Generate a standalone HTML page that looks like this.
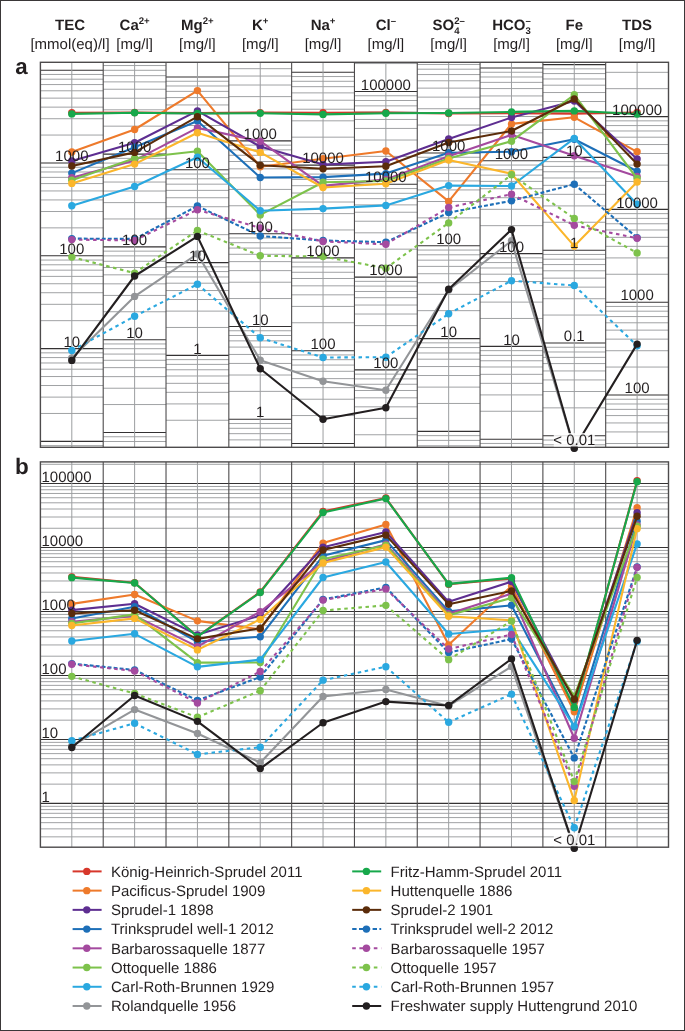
<!DOCTYPE html>
<html><head><meta charset="utf-8"><style>
html,body{margin:0;padding:0;background:#fff;}
body{width:685px;height:1031px;overflow:hidden;}
svg{display:block;will-change:transform;}
text{font-family:"Liberation Sans",sans-serif;}
</style></head><body>
<svg width="685" height="1031" viewBox="0 0 685 1031" font-family="Liberation Sans, sans-serif" text-rendering="geometricPrecision" fill="#231f20">
<rect x="0" y="0" width="685" height="1031" fill="#fff"/>
<rect x="0.5" y="0.5" width="684" height="1030" fill="none" stroke="#3a3738" stroke-width="1"/>
<text x="70.01" y="29.5" text-anchor="middle" font-size="15" font-weight="bold">TEC</text>
<text x="70.01" y="49.4" text-anchor="middle" font-size="15">[mmol(eq)/l]</text>
<text x="134.62" y="29.5" text-anchor="middle" font-size="15" font-weight="bold">Ca<tspan font-size="9.6" dy="-5.3">2+</tspan></text>
<text x="134.62" y="49.4" text-anchor="middle" font-size="15">[mg/l]</text>
<text x="197.43" y="29.5" text-anchor="middle" font-size="15" font-weight="bold">Mg<tspan font-size="9.6" dy="-5.3">2+</tspan></text>
<text x="197.43" y="49.4" text-anchor="middle" font-size="15">[mg/l]</text>
<text x="260.24" y="29.5" text-anchor="middle" font-size="15" font-weight="bold">K<tspan font-size="9.6" dy="-5.3">+</tspan></text>
<text x="260.24" y="49.4" text-anchor="middle" font-size="15">[mg/l]</text>
<text x="323.04" y="29.5" text-anchor="middle" font-size="15" font-weight="bold">Na<tspan font-size="9.6" dy="-5.3">+</tspan></text>
<text x="323.04" y="49.4" text-anchor="middle" font-size="15">[mg/l]</text>
<text x="385.86" y="29.5" text-anchor="middle" font-size="15" font-weight="bold">Cl<tspan font-size="9.6" dy="-5.3">&#8211;</tspan></text>
<text x="385.86" y="49.4" text-anchor="middle" font-size="15">[mg/l]</text>
<text x="448.66" y="29.5" text-anchor="middle" font-size="15" font-weight="bold">SO<tspan font-size="9.6" dy="-5.3">2&#8211;</tspan><tspan font-size="9.6" dy="9.5" dx="-10.7">4</tspan></text>
<text x="448.66" y="49.4" text-anchor="middle" font-size="15">[mg/l]</text>
<text x="511.48" y="29.5" text-anchor="middle" font-size="15" font-weight="bold">HCO<tspan font-size="9.6" dy="-5.3">&#8211;</tspan><tspan font-size="9.6" dy="9.5" dx="-5.35">3</tspan></text>
<text x="511.48" y="49.4" text-anchor="middle" font-size="15">[mg/l]</text>
<text x="574.28" y="29.5" text-anchor="middle" font-size="15" font-weight="bold">Fe</text>
<text x="574.28" y="49.4" text-anchor="middle" font-size="15">[mg/l]</text>
<text x="637.1" y="29.5" text-anchor="middle" font-size="15" font-weight="bold">TDS</text>
<text x="637.1" y="49.4" text-anchor="middle" font-size="15">[mg/l]</text>
<text x="15.3" y="74.3" font-size="22.3" font-weight="bold">a</text>
<text x="15" y="473.6" font-size="22.5" font-weight="bold">b</text>
<line x1="40.4" y1="445.65" x2="103.21" y2="445.65" stroke="#a0a2a4" stroke-width="1"/>
<line x1="40.4" y1="413.46" x2="103.21" y2="413.46" stroke="#a0a2a4" stroke-width="1"/>
<line x1="40.4" y1="397.12" x2="103.21" y2="397.12" stroke="#a0a2a4" stroke-width="1"/>
<line x1="40.4" y1="385.53" x2="103.21" y2="385.53" stroke="#a0a2a4" stroke-width="1"/>
<line x1="40.4" y1="376.54" x2="103.21" y2="376.54" stroke="#a0a2a4" stroke-width="1"/>
<line x1="40.4" y1="369.19" x2="103.21" y2="369.19" stroke="#a0a2a4" stroke-width="1"/>
<line x1="40.4" y1="362.97" x2="103.21" y2="362.97" stroke="#a0a2a4" stroke-width="1"/>
<line x1="40.4" y1="357.59" x2="103.21" y2="357.59" stroke="#a0a2a4" stroke-width="1"/>
<line x1="40.4" y1="352.85" x2="103.21" y2="352.85" stroke="#a0a2a4" stroke-width="1"/>
<line x1="40.4" y1="320.66" x2="103.21" y2="320.66" stroke="#a0a2a4" stroke-width="1"/>
<line x1="40.4" y1="304.32" x2="103.21" y2="304.32" stroke="#a0a2a4" stroke-width="1"/>
<line x1="40.4" y1="292.73" x2="103.21" y2="292.73" stroke="#a0a2a4" stroke-width="1"/>
<line x1="40.4" y1="283.74" x2="103.21" y2="283.74" stroke="#a0a2a4" stroke-width="1"/>
<line x1="40.4" y1="276.39" x2="103.21" y2="276.39" stroke="#a0a2a4" stroke-width="1"/>
<line x1="40.4" y1="270.17" x2="103.21" y2="270.17" stroke="#a0a2a4" stroke-width="1"/>
<line x1="40.4" y1="264.79" x2="103.21" y2="264.79" stroke="#a0a2a4" stroke-width="1"/>
<line x1="40.4" y1="260.05" x2="103.21" y2="260.05" stroke="#a0a2a4" stroke-width="1"/>
<line x1="40.4" y1="227.86" x2="103.21" y2="227.86" stroke="#a0a2a4" stroke-width="1"/>
<line x1="40.4" y1="211.52" x2="103.21" y2="211.52" stroke="#a0a2a4" stroke-width="1"/>
<line x1="40.4" y1="199.93" x2="103.21" y2="199.93" stroke="#a0a2a4" stroke-width="1"/>
<line x1="40.4" y1="190.94" x2="103.21" y2="190.94" stroke="#a0a2a4" stroke-width="1"/>
<line x1="40.4" y1="183.59" x2="103.21" y2="183.59" stroke="#a0a2a4" stroke-width="1"/>
<line x1="40.4" y1="177.37" x2="103.21" y2="177.37" stroke="#a0a2a4" stroke-width="1"/>
<line x1="40.4" y1="171.99" x2="103.21" y2="171.99" stroke="#a0a2a4" stroke-width="1"/>
<line x1="40.4" y1="167.25" x2="103.21" y2="167.25" stroke="#a0a2a4" stroke-width="1"/>
<line x1="40.4" y1="135.06" x2="103.21" y2="135.06" stroke="#a0a2a4" stroke-width="1"/>
<line x1="40.4" y1="118.72" x2="103.21" y2="118.72" stroke="#a0a2a4" stroke-width="1"/>
<line x1="40.4" y1="107.13" x2="103.21" y2="107.13" stroke="#a0a2a4" stroke-width="1"/>
<line x1="40.4" y1="98.14" x2="103.21" y2="98.14" stroke="#a0a2a4" stroke-width="1"/>
<line x1="40.4" y1="90.79" x2="103.21" y2="90.79" stroke="#a0a2a4" stroke-width="1"/>
<line x1="40.4" y1="84.57" x2="103.21" y2="84.57" stroke="#a0a2a4" stroke-width="1"/>
<line x1="40.4" y1="79.19" x2="103.21" y2="79.19" stroke="#a0a2a4" stroke-width="1"/>
<line x1="40.4" y1="74.45" x2="103.21" y2="74.45" stroke="#a0a2a4" stroke-width="1"/>
<line x1="40.4" y1="441.4" x2="103.21" y2="441.4" stroke="#343233" stroke-width="1.1"/>
<line x1="40.4" y1="348.6" x2="103.21" y2="348.6" stroke="#343233" stroke-width="1.1"/>
<line x1="40.4" y1="255.8" x2="103.21" y2="255.8" stroke="#343233" stroke-width="1.1"/>
<line x1="40.4" y1="163" x2="103.21" y2="163" stroke="#343233" stroke-width="1.1"/>
<line x1="40.4" y1="70.2" x2="103.21" y2="70.2" stroke="#343233" stroke-width="1.1"/>
<line x1="71.81" y1="62.3" x2="71.81" y2="447.3" stroke="#9c9ea0" stroke-width="1"/>
<line x1="103.21" y1="441.49" x2="166.02" y2="441.49" stroke="#a0a2a4" stroke-width="1"/>
<line x1="103.21" y1="436.75" x2="166.02" y2="436.75" stroke="#a0a2a4" stroke-width="1"/>
<line x1="103.21" y1="404.56" x2="166.02" y2="404.56" stroke="#a0a2a4" stroke-width="1"/>
<line x1="103.21" y1="388.22" x2="166.02" y2="388.22" stroke="#a0a2a4" stroke-width="1"/>
<line x1="103.21" y1="376.63" x2="166.02" y2="376.63" stroke="#a0a2a4" stroke-width="1"/>
<line x1="103.21" y1="367.64" x2="166.02" y2="367.64" stroke="#a0a2a4" stroke-width="1"/>
<line x1="103.21" y1="360.29" x2="166.02" y2="360.29" stroke="#a0a2a4" stroke-width="1"/>
<line x1="103.21" y1="354.07" x2="166.02" y2="354.07" stroke="#a0a2a4" stroke-width="1"/>
<line x1="103.21" y1="348.69" x2="166.02" y2="348.69" stroke="#a0a2a4" stroke-width="1"/>
<line x1="103.21" y1="343.95" x2="166.02" y2="343.95" stroke="#a0a2a4" stroke-width="1"/>
<line x1="103.21" y1="311.76" x2="166.02" y2="311.76" stroke="#a0a2a4" stroke-width="1"/>
<line x1="103.21" y1="295.42" x2="166.02" y2="295.42" stroke="#a0a2a4" stroke-width="1"/>
<line x1="103.21" y1="283.83" x2="166.02" y2="283.83" stroke="#a0a2a4" stroke-width="1"/>
<line x1="103.21" y1="274.84" x2="166.02" y2="274.84" stroke="#a0a2a4" stroke-width="1"/>
<line x1="103.21" y1="267.49" x2="166.02" y2="267.49" stroke="#a0a2a4" stroke-width="1"/>
<line x1="103.21" y1="261.27" x2="166.02" y2="261.27" stroke="#a0a2a4" stroke-width="1"/>
<line x1="103.21" y1="255.89" x2="166.02" y2="255.89" stroke="#a0a2a4" stroke-width="1"/>
<line x1="103.21" y1="251.15" x2="166.02" y2="251.15" stroke="#a0a2a4" stroke-width="1"/>
<line x1="103.21" y1="218.96" x2="166.02" y2="218.96" stroke="#a0a2a4" stroke-width="1"/>
<line x1="103.21" y1="202.62" x2="166.02" y2="202.62" stroke="#a0a2a4" stroke-width="1"/>
<line x1="103.21" y1="191.03" x2="166.02" y2="191.03" stroke="#a0a2a4" stroke-width="1"/>
<line x1="103.21" y1="182.04" x2="166.02" y2="182.04" stroke="#a0a2a4" stroke-width="1"/>
<line x1="103.21" y1="174.69" x2="166.02" y2="174.69" stroke="#a0a2a4" stroke-width="1"/>
<line x1="103.21" y1="168.47" x2="166.02" y2="168.47" stroke="#a0a2a4" stroke-width="1"/>
<line x1="103.21" y1="163.09" x2="166.02" y2="163.09" stroke="#a0a2a4" stroke-width="1"/>
<line x1="103.21" y1="158.35" x2="166.02" y2="158.35" stroke="#a0a2a4" stroke-width="1"/>
<line x1="103.21" y1="126.16" x2="166.02" y2="126.16" stroke="#a0a2a4" stroke-width="1"/>
<line x1="103.21" y1="109.82" x2="166.02" y2="109.82" stroke="#a0a2a4" stroke-width="1"/>
<line x1="103.21" y1="98.23" x2="166.02" y2="98.23" stroke="#a0a2a4" stroke-width="1"/>
<line x1="103.21" y1="89.24" x2="166.02" y2="89.24" stroke="#a0a2a4" stroke-width="1"/>
<line x1="103.21" y1="81.89" x2="166.02" y2="81.89" stroke="#a0a2a4" stroke-width="1"/>
<line x1="103.21" y1="75.67" x2="166.02" y2="75.67" stroke="#a0a2a4" stroke-width="1"/>
<line x1="103.21" y1="70.29" x2="166.02" y2="70.29" stroke="#a0a2a4" stroke-width="1"/>
<line x1="103.21" y1="65.55" x2="166.02" y2="65.55" stroke="#a0a2a4" stroke-width="1"/>
<line x1="103.21" y1="432.5" x2="166.02" y2="432.5" stroke="#343233" stroke-width="1.1"/>
<line x1="103.21" y1="339.7" x2="166.02" y2="339.7" stroke="#343233" stroke-width="1.1"/>
<line x1="103.21" y1="246.9" x2="166.02" y2="246.9" stroke="#343233" stroke-width="1.1"/>
<line x1="103.21" y1="154.1" x2="166.02" y2="154.1" stroke="#343233" stroke-width="1.1"/>
<line x1="134.62" y1="62.3" x2="134.62" y2="447.3" stroke="#9c9ea0" stroke-width="1"/>
<line x1="166.02" y1="420.26" x2="228.83" y2="420.26" stroke="#a0a2a4" stroke-width="1"/>
<line x1="166.02" y1="403.92" x2="228.83" y2="403.92" stroke="#a0a2a4" stroke-width="1"/>
<line x1="166.02" y1="392.33" x2="228.83" y2="392.33" stroke="#a0a2a4" stroke-width="1"/>
<line x1="166.02" y1="383.34" x2="228.83" y2="383.34" stroke="#a0a2a4" stroke-width="1"/>
<line x1="166.02" y1="375.99" x2="228.83" y2="375.99" stroke="#a0a2a4" stroke-width="1"/>
<line x1="166.02" y1="369.77" x2="228.83" y2="369.77" stroke="#a0a2a4" stroke-width="1"/>
<line x1="166.02" y1="364.39" x2="228.83" y2="364.39" stroke="#a0a2a4" stroke-width="1"/>
<line x1="166.02" y1="359.65" x2="228.83" y2="359.65" stroke="#a0a2a4" stroke-width="1"/>
<line x1="166.02" y1="327.46" x2="228.83" y2="327.46" stroke="#a0a2a4" stroke-width="1"/>
<line x1="166.02" y1="311.12" x2="228.83" y2="311.12" stroke="#a0a2a4" stroke-width="1"/>
<line x1="166.02" y1="299.53" x2="228.83" y2="299.53" stroke="#a0a2a4" stroke-width="1"/>
<line x1="166.02" y1="290.54" x2="228.83" y2="290.54" stroke="#a0a2a4" stroke-width="1"/>
<line x1="166.02" y1="283.19" x2="228.83" y2="283.19" stroke="#a0a2a4" stroke-width="1"/>
<line x1="166.02" y1="276.97" x2="228.83" y2="276.97" stroke="#a0a2a4" stroke-width="1"/>
<line x1="166.02" y1="271.59" x2="228.83" y2="271.59" stroke="#a0a2a4" stroke-width="1"/>
<line x1="166.02" y1="266.85" x2="228.83" y2="266.85" stroke="#a0a2a4" stroke-width="1"/>
<line x1="166.02" y1="234.66" x2="228.83" y2="234.66" stroke="#a0a2a4" stroke-width="1"/>
<line x1="166.02" y1="218.32" x2="228.83" y2="218.32" stroke="#a0a2a4" stroke-width="1"/>
<line x1="166.02" y1="206.73" x2="228.83" y2="206.73" stroke="#a0a2a4" stroke-width="1"/>
<line x1="166.02" y1="197.74" x2="228.83" y2="197.74" stroke="#a0a2a4" stroke-width="1"/>
<line x1="166.02" y1="190.39" x2="228.83" y2="190.39" stroke="#a0a2a4" stroke-width="1"/>
<line x1="166.02" y1="184.17" x2="228.83" y2="184.17" stroke="#a0a2a4" stroke-width="1"/>
<line x1="166.02" y1="178.79" x2="228.83" y2="178.79" stroke="#a0a2a4" stroke-width="1"/>
<line x1="166.02" y1="174.05" x2="228.83" y2="174.05" stroke="#a0a2a4" stroke-width="1"/>
<line x1="166.02" y1="141.86" x2="228.83" y2="141.86" stroke="#a0a2a4" stroke-width="1"/>
<line x1="166.02" y1="125.52" x2="228.83" y2="125.52" stroke="#a0a2a4" stroke-width="1"/>
<line x1="166.02" y1="113.93" x2="228.83" y2="113.93" stroke="#a0a2a4" stroke-width="1"/>
<line x1="166.02" y1="104.94" x2="228.83" y2="104.94" stroke="#a0a2a4" stroke-width="1"/>
<line x1="166.02" y1="97.59" x2="228.83" y2="97.59" stroke="#a0a2a4" stroke-width="1"/>
<line x1="166.02" y1="91.37" x2="228.83" y2="91.37" stroke="#a0a2a4" stroke-width="1"/>
<line x1="166.02" y1="85.99" x2="228.83" y2="85.99" stroke="#a0a2a4" stroke-width="1"/>
<line x1="166.02" y1="81.25" x2="228.83" y2="81.25" stroke="#a0a2a4" stroke-width="1"/>
<line x1="166.02" y1="355.4" x2="228.83" y2="355.4" stroke="#343233" stroke-width="1.1"/>
<line x1="166.02" y1="262.6" x2="228.83" y2="262.6" stroke="#343233" stroke-width="1.1"/>
<line x1="166.02" y1="169.8" x2="228.83" y2="169.8" stroke="#343233" stroke-width="1.1"/>
<line x1="166.02" y1="77" x2="228.83" y2="77" stroke="#343233" stroke-width="1.1"/>
<line x1="197.43" y1="62.3" x2="197.43" y2="447.3" stroke="#9c9ea0" stroke-width="1"/>
<line x1="228.83" y1="439.89" x2="291.64" y2="439.89" stroke="#a0a2a4" stroke-width="1"/>
<line x1="228.83" y1="433.67" x2="291.64" y2="433.67" stroke="#a0a2a4" stroke-width="1"/>
<line x1="228.83" y1="428.29" x2="291.64" y2="428.29" stroke="#a0a2a4" stroke-width="1"/>
<line x1="228.83" y1="423.55" x2="291.64" y2="423.55" stroke="#a0a2a4" stroke-width="1"/>
<line x1="228.83" y1="391.36" x2="291.64" y2="391.36" stroke="#a0a2a4" stroke-width="1"/>
<line x1="228.83" y1="375.02" x2="291.64" y2="375.02" stroke="#a0a2a4" stroke-width="1"/>
<line x1="228.83" y1="363.43" x2="291.64" y2="363.43" stroke="#a0a2a4" stroke-width="1"/>
<line x1="228.83" y1="354.44" x2="291.64" y2="354.44" stroke="#a0a2a4" stroke-width="1"/>
<line x1="228.83" y1="347.09" x2="291.64" y2="347.09" stroke="#a0a2a4" stroke-width="1"/>
<line x1="228.83" y1="340.87" x2="291.64" y2="340.87" stroke="#a0a2a4" stroke-width="1"/>
<line x1="228.83" y1="335.49" x2="291.64" y2="335.49" stroke="#a0a2a4" stroke-width="1"/>
<line x1="228.83" y1="330.75" x2="291.64" y2="330.75" stroke="#a0a2a4" stroke-width="1"/>
<line x1="228.83" y1="298.56" x2="291.64" y2="298.56" stroke="#a0a2a4" stroke-width="1"/>
<line x1="228.83" y1="282.22" x2="291.64" y2="282.22" stroke="#a0a2a4" stroke-width="1"/>
<line x1="228.83" y1="270.63" x2="291.64" y2="270.63" stroke="#a0a2a4" stroke-width="1"/>
<line x1="228.83" y1="261.64" x2="291.64" y2="261.64" stroke="#a0a2a4" stroke-width="1"/>
<line x1="228.83" y1="254.29" x2="291.64" y2="254.29" stroke="#a0a2a4" stroke-width="1"/>
<line x1="228.83" y1="248.07" x2="291.64" y2="248.07" stroke="#a0a2a4" stroke-width="1"/>
<line x1="228.83" y1="242.69" x2="291.64" y2="242.69" stroke="#a0a2a4" stroke-width="1"/>
<line x1="228.83" y1="237.95" x2="291.64" y2="237.95" stroke="#a0a2a4" stroke-width="1"/>
<line x1="228.83" y1="205.76" x2="291.64" y2="205.76" stroke="#a0a2a4" stroke-width="1"/>
<line x1="228.83" y1="189.42" x2="291.64" y2="189.42" stroke="#a0a2a4" stroke-width="1"/>
<line x1="228.83" y1="177.83" x2="291.64" y2="177.83" stroke="#a0a2a4" stroke-width="1"/>
<line x1="228.83" y1="168.84" x2="291.64" y2="168.84" stroke="#a0a2a4" stroke-width="1"/>
<line x1="228.83" y1="161.49" x2="291.64" y2="161.49" stroke="#a0a2a4" stroke-width="1"/>
<line x1="228.83" y1="155.27" x2="291.64" y2="155.27" stroke="#a0a2a4" stroke-width="1"/>
<line x1="228.83" y1="149.89" x2="291.64" y2="149.89" stroke="#a0a2a4" stroke-width="1"/>
<line x1="228.83" y1="145.15" x2="291.64" y2="145.15" stroke="#a0a2a4" stroke-width="1"/>
<line x1="228.83" y1="112.96" x2="291.64" y2="112.96" stroke="#a0a2a4" stroke-width="1"/>
<line x1="228.83" y1="96.62" x2="291.64" y2="96.62" stroke="#a0a2a4" stroke-width="1"/>
<line x1="228.83" y1="85.03" x2="291.64" y2="85.03" stroke="#a0a2a4" stroke-width="1"/>
<line x1="228.83" y1="76.04" x2="291.64" y2="76.04" stroke="#a0a2a4" stroke-width="1"/>
<line x1="228.83" y1="68.69" x2="291.64" y2="68.69" stroke="#a0a2a4" stroke-width="1"/>
<line x1="228.83" y1="419.3" x2="291.64" y2="419.3" stroke="#343233" stroke-width="1.1"/>
<line x1="228.83" y1="326.5" x2="291.64" y2="326.5" stroke="#343233" stroke-width="1.1"/>
<line x1="228.83" y1="233.7" x2="291.64" y2="233.7" stroke="#343233" stroke-width="1.1"/>
<line x1="228.83" y1="140.9" x2="291.64" y2="140.9" stroke="#343233" stroke-width="1.1"/>
<line x1="260.24" y1="62.3" x2="260.24" y2="447.3" stroke="#9c9ea0" stroke-width="1"/>
<line x1="291.64" y1="415.56" x2="354.45" y2="415.56" stroke="#a0a2a4" stroke-width="1"/>
<line x1="291.64" y1="399.22" x2="354.45" y2="399.22" stroke="#a0a2a4" stroke-width="1"/>
<line x1="291.64" y1="387.63" x2="354.45" y2="387.63" stroke="#a0a2a4" stroke-width="1"/>
<line x1="291.64" y1="378.64" x2="354.45" y2="378.64" stroke="#a0a2a4" stroke-width="1"/>
<line x1="291.64" y1="371.29" x2="354.45" y2="371.29" stroke="#a0a2a4" stroke-width="1"/>
<line x1="291.64" y1="365.07" x2="354.45" y2="365.07" stroke="#a0a2a4" stroke-width="1"/>
<line x1="291.64" y1="359.69" x2="354.45" y2="359.69" stroke="#a0a2a4" stroke-width="1"/>
<line x1="291.64" y1="354.95" x2="354.45" y2="354.95" stroke="#a0a2a4" stroke-width="1"/>
<line x1="291.64" y1="322.76" x2="354.45" y2="322.76" stroke="#a0a2a4" stroke-width="1"/>
<line x1="291.64" y1="306.42" x2="354.45" y2="306.42" stroke="#a0a2a4" stroke-width="1"/>
<line x1="291.64" y1="294.83" x2="354.45" y2="294.83" stroke="#a0a2a4" stroke-width="1"/>
<line x1="291.64" y1="285.84" x2="354.45" y2="285.84" stroke="#a0a2a4" stroke-width="1"/>
<line x1="291.64" y1="278.49" x2="354.45" y2="278.49" stroke="#a0a2a4" stroke-width="1"/>
<line x1="291.64" y1="272.27" x2="354.45" y2="272.27" stroke="#a0a2a4" stroke-width="1"/>
<line x1="291.64" y1="266.89" x2="354.45" y2="266.89" stroke="#a0a2a4" stroke-width="1"/>
<line x1="291.64" y1="262.15" x2="354.45" y2="262.15" stroke="#a0a2a4" stroke-width="1"/>
<line x1="291.64" y1="229.96" x2="354.45" y2="229.96" stroke="#a0a2a4" stroke-width="1"/>
<line x1="291.64" y1="213.62" x2="354.45" y2="213.62" stroke="#a0a2a4" stroke-width="1"/>
<line x1="291.64" y1="202.03" x2="354.45" y2="202.03" stroke="#a0a2a4" stroke-width="1"/>
<line x1="291.64" y1="193.04" x2="354.45" y2="193.04" stroke="#a0a2a4" stroke-width="1"/>
<line x1="291.64" y1="185.69" x2="354.45" y2="185.69" stroke="#a0a2a4" stroke-width="1"/>
<line x1="291.64" y1="179.47" x2="354.45" y2="179.47" stroke="#a0a2a4" stroke-width="1"/>
<line x1="291.64" y1="174.09" x2="354.45" y2="174.09" stroke="#a0a2a4" stroke-width="1"/>
<line x1="291.64" y1="169.35" x2="354.45" y2="169.35" stroke="#a0a2a4" stroke-width="1"/>
<line x1="291.64" y1="137.16" x2="354.45" y2="137.16" stroke="#a0a2a4" stroke-width="1"/>
<line x1="291.64" y1="120.82" x2="354.45" y2="120.82" stroke="#a0a2a4" stroke-width="1"/>
<line x1="291.64" y1="109.23" x2="354.45" y2="109.23" stroke="#a0a2a4" stroke-width="1"/>
<line x1="291.64" y1="100.24" x2="354.45" y2="100.24" stroke="#a0a2a4" stroke-width="1"/>
<line x1="291.64" y1="92.89" x2="354.45" y2="92.89" stroke="#a0a2a4" stroke-width="1"/>
<line x1="291.64" y1="86.67" x2="354.45" y2="86.67" stroke="#a0a2a4" stroke-width="1"/>
<line x1="291.64" y1="81.29" x2="354.45" y2="81.29" stroke="#a0a2a4" stroke-width="1"/>
<line x1="291.64" y1="76.55" x2="354.45" y2="76.55" stroke="#a0a2a4" stroke-width="1"/>
<line x1="291.64" y1="443.5" x2="354.45" y2="443.5" stroke="#343233" stroke-width="1.1"/>
<line x1="291.64" y1="350.7" x2="354.45" y2="350.7" stroke="#343233" stroke-width="1.1"/>
<line x1="291.64" y1="257.9" x2="354.45" y2="257.9" stroke="#343233" stroke-width="1.1"/>
<line x1="291.64" y1="165.1" x2="354.45" y2="165.1" stroke="#343233" stroke-width="1.1"/>
<line x1="291.64" y1="72.3" x2="354.45" y2="72.3" stroke="#343233" stroke-width="1.1"/>
<line x1="323.04" y1="62.3" x2="323.04" y2="447.3" stroke="#9c9ea0" stroke-width="1"/>
<line x1="354.45" y1="434.76" x2="417.26" y2="434.76" stroke="#a0a2a4" stroke-width="1"/>
<line x1="354.45" y1="418.42" x2="417.26" y2="418.42" stroke="#a0a2a4" stroke-width="1"/>
<line x1="354.45" y1="406.83" x2="417.26" y2="406.83" stroke="#a0a2a4" stroke-width="1"/>
<line x1="354.45" y1="397.84" x2="417.26" y2="397.84" stroke="#a0a2a4" stroke-width="1"/>
<line x1="354.45" y1="390.49" x2="417.26" y2="390.49" stroke="#a0a2a4" stroke-width="1"/>
<line x1="354.45" y1="384.27" x2="417.26" y2="384.27" stroke="#a0a2a4" stroke-width="1"/>
<line x1="354.45" y1="378.89" x2="417.26" y2="378.89" stroke="#a0a2a4" stroke-width="1"/>
<line x1="354.45" y1="374.15" x2="417.26" y2="374.15" stroke="#a0a2a4" stroke-width="1"/>
<line x1="354.45" y1="341.96" x2="417.26" y2="341.96" stroke="#a0a2a4" stroke-width="1"/>
<line x1="354.45" y1="325.62" x2="417.26" y2="325.62" stroke="#a0a2a4" stroke-width="1"/>
<line x1="354.45" y1="314.03" x2="417.26" y2="314.03" stroke="#a0a2a4" stroke-width="1"/>
<line x1="354.45" y1="305.04" x2="417.26" y2="305.04" stroke="#a0a2a4" stroke-width="1"/>
<line x1="354.45" y1="297.69" x2="417.26" y2="297.69" stroke="#a0a2a4" stroke-width="1"/>
<line x1="354.45" y1="291.47" x2="417.26" y2="291.47" stroke="#a0a2a4" stroke-width="1"/>
<line x1="354.45" y1="286.09" x2="417.26" y2="286.09" stroke="#a0a2a4" stroke-width="1"/>
<line x1="354.45" y1="281.35" x2="417.26" y2="281.35" stroke="#a0a2a4" stroke-width="1"/>
<line x1="354.45" y1="249.16" x2="417.26" y2="249.16" stroke="#a0a2a4" stroke-width="1"/>
<line x1="354.45" y1="232.82" x2="417.26" y2="232.82" stroke="#a0a2a4" stroke-width="1"/>
<line x1="354.45" y1="221.23" x2="417.26" y2="221.23" stroke="#a0a2a4" stroke-width="1"/>
<line x1="354.45" y1="212.24" x2="417.26" y2="212.24" stroke="#a0a2a4" stroke-width="1"/>
<line x1="354.45" y1="204.89" x2="417.26" y2="204.89" stroke="#a0a2a4" stroke-width="1"/>
<line x1="354.45" y1="198.67" x2="417.26" y2="198.67" stroke="#a0a2a4" stroke-width="1"/>
<line x1="354.45" y1="193.29" x2="417.26" y2="193.29" stroke="#a0a2a4" stroke-width="1"/>
<line x1="354.45" y1="188.55" x2="417.26" y2="188.55" stroke="#a0a2a4" stroke-width="1"/>
<line x1="354.45" y1="156.36" x2="417.26" y2="156.36" stroke="#a0a2a4" stroke-width="1"/>
<line x1="354.45" y1="140.02" x2="417.26" y2="140.02" stroke="#a0a2a4" stroke-width="1"/>
<line x1="354.45" y1="128.43" x2="417.26" y2="128.43" stroke="#a0a2a4" stroke-width="1"/>
<line x1="354.45" y1="119.44" x2="417.26" y2="119.44" stroke="#a0a2a4" stroke-width="1"/>
<line x1="354.45" y1="112.09" x2="417.26" y2="112.09" stroke="#a0a2a4" stroke-width="1"/>
<line x1="354.45" y1="105.87" x2="417.26" y2="105.87" stroke="#a0a2a4" stroke-width="1"/>
<line x1="354.45" y1="100.49" x2="417.26" y2="100.49" stroke="#a0a2a4" stroke-width="1"/>
<line x1="354.45" y1="95.75" x2="417.26" y2="95.75" stroke="#a0a2a4" stroke-width="1"/>
<line x1="354.45" y1="63.56" x2="417.26" y2="63.56" stroke="#a0a2a4" stroke-width="1"/>
<line x1="354.45" y1="369.9" x2="417.26" y2="369.9" stroke="#343233" stroke-width="1.1"/>
<line x1="354.45" y1="277.1" x2="417.26" y2="277.1" stroke="#343233" stroke-width="1.1"/>
<line x1="354.45" y1="184.3" x2="417.26" y2="184.3" stroke="#343233" stroke-width="1.1"/>
<line x1="354.45" y1="91.5" x2="417.26" y2="91.5" stroke="#343233" stroke-width="1.1"/>
<line x1="385.86" y1="62.3" x2="385.86" y2="447.3" stroke="#9c9ea0" stroke-width="1"/>
<line x1="417.26" y1="445.77" x2="480.07" y2="445.77" stroke="#a0a2a4" stroke-width="1"/>
<line x1="417.26" y1="440.39" x2="480.07" y2="440.39" stroke="#a0a2a4" stroke-width="1"/>
<line x1="417.26" y1="435.65" x2="480.07" y2="435.65" stroke="#a0a2a4" stroke-width="1"/>
<line x1="417.26" y1="403.46" x2="480.07" y2="403.46" stroke="#a0a2a4" stroke-width="1"/>
<line x1="417.26" y1="387.12" x2="480.07" y2="387.12" stroke="#a0a2a4" stroke-width="1"/>
<line x1="417.26" y1="375.53" x2="480.07" y2="375.53" stroke="#a0a2a4" stroke-width="1"/>
<line x1="417.26" y1="366.54" x2="480.07" y2="366.54" stroke="#a0a2a4" stroke-width="1"/>
<line x1="417.26" y1="359.19" x2="480.07" y2="359.19" stroke="#a0a2a4" stroke-width="1"/>
<line x1="417.26" y1="352.97" x2="480.07" y2="352.97" stroke="#a0a2a4" stroke-width="1"/>
<line x1="417.26" y1="347.59" x2="480.07" y2="347.59" stroke="#a0a2a4" stroke-width="1"/>
<line x1="417.26" y1="342.85" x2="480.07" y2="342.85" stroke="#a0a2a4" stroke-width="1"/>
<line x1="417.26" y1="310.66" x2="480.07" y2="310.66" stroke="#a0a2a4" stroke-width="1"/>
<line x1="417.26" y1="294.32" x2="480.07" y2="294.32" stroke="#a0a2a4" stroke-width="1"/>
<line x1="417.26" y1="282.73" x2="480.07" y2="282.73" stroke="#a0a2a4" stroke-width="1"/>
<line x1="417.26" y1="273.74" x2="480.07" y2="273.74" stroke="#a0a2a4" stroke-width="1"/>
<line x1="417.26" y1="266.39" x2="480.07" y2="266.39" stroke="#a0a2a4" stroke-width="1"/>
<line x1="417.26" y1="260.17" x2="480.07" y2="260.17" stroke="#a0a2a4" stroke-width="1"/>
<line x1="417.26" y1="254.79" x2="480.07" y2="254.79" stroke="#a0a2a4" stroke-width="1"/>
<line x1="417.26" y1="250.05" x2="480.07" y2="250.05" stroke="#a0a2a4" stroke-width="1"/>
<line x1="417.26" y1="217.86" x2="480.07" y2="217.86" stroke="#a0a2a4" stroke-width="1"/>
<line x1="417.26" y1="201.52" x2="480.07" y2="201.52" stroke="#a0a2a4" stroke-width="1"/>
<line x1="417.26" y1="189.93" x2="480.07" y2="189.93" stroke="#a0a2a4" stroke-width="1"/>
<line x1="417.26" y1="180.94" x2="480.07" y2="180.94" stroke="#a0a2a4" stroke-width="1"/>
<line x1="417.26" y1="173.59" x2="480.07" y2="173.59" stroke="#a0a2a4" stroke-width="1"/>
<line x1="417.26" y1="167.37" x2="480.07" y2="167.37" stroke="#a0a2a4" stroke-width="1"/>
<line x1="417.26" y1="161.99" x2="480.07" y2="161.99" stroke="#a0a2a4" stroke-width="1"/>
<line x1="417.26" y1="157.25" x2="480.07" y2="157.25" stroke="#a0a2a4" stroke-width="1"/>
<line x1="417.26" y1="125.06" x2="480.07" y2="125.06" stroke="#a0a2a4" stroke-width="1"/>
<line x1="417.26" y1="108.72" x2="480.07" y2="108.72" stroke="#a0a2a4" stroke-width="1"/>
<line x1="417.26" y1="97.13" x2="480.07" y2="97.13" stroke="#a0a2a4" stroke-width="1"/>
<line x1="417.26" y1="88.14" x2="480.07" y2="88.14" stroke="#a0a2a4" stroke-width="1"/>
<line x1="417.26" y1="80.79" x2="480.07" y2="80.79" stroke="#a0a2a4" stroke-width="1"/>
<line x1="417.26" y1="74.57" x2="480.07" y2="74.57" stroke="#a0a2a4" stroke-width="1"/>
<line x1="417.26" y1="69.19" x2="480.07" y2="69.19" stroke="#a0a2a4" stroke-width="1"/>
<line x1="417.26" y1="64.45" x2="480.07" y2="64.45" stroke="#a0a2a4" stroke-width="1"/>
<line x1="417.26" y1="431.4" x2="480.07" y2="431.4" stroke="#343233" stroke-width="1.1"/>
<line x1="417.26" y1="338.6" x2="480.07" y2="338.6" stroke="#343233" stroke-width="1.1"/>
<line x1="417.26" y1="245.8" x2="480.07" y2="245.8" stroke="#343233" stroke-width="1.1"/>
<line x1="417.26" y1="153" x2="480.07" y2="153" stroke="#343233" stroke-width="1.1"/>
<line x1="448.66" y1="62.3" x2="448.66" y2="447.3" stroke="#9c9ea0" stroke-width="1"/>
<line x1="480.07" y1="443.45" x2="542.88" y2="443.45" stroke="#a0a2a4" stroke-width="1"/>
<line x1="480.07" y1="411.26" x2="542.88" y2="411.26" stroke="#a0a2a4" stroke-width="1"/>
<line x1="480.07" y1="394.92" x2="542.88" y2="394.92" stroke="#a0a2a4" stroke-width="1"/>
<line x1="480.07" y1="383.33" x2="542.88" y2="383.33" stroke="#a0a2a4" stroke-width="1"/>
<line x1="480.07" y1="374.34" x2="542.88" y2="374.34" stroke="#a0a2a4" stroke-width="1"/>
<line x1="480.07" y1="366.99" x2="542.88" y2="366.99" stroke="#a0a2a4" stroke-width="1"/>
<line x1="480.07" y1="360.77" x2="542.88" y2="360.77" stroke="#a0a2a4" stroke-width="1"/>
<line x1="480.07" y1="355.39" x2="542.88" y2="355.39" stroke="#a0a2a4" stroke-width="1"/>
<line x1="480.07" y1="350.65" x2="542.88" y2="350.65" stroke="#a0a2a4" stroke-width="1"/>
<line x1="480.07" y1="318.46" x2="542.88" y2="318.46" stroke="#a0a2a4" stroke-width="1"/>
<line x1="480.07" y1="302.12" x2="542.88" y2="302.12" stroke="#a0a2a4" stroke-width="1"/>
<line x1="480.07" y1="290.53" x2="542.88" y2="290.53" stroke="#a0a2a4" stroke-width="1"/>
<line x1="480.07" y1="281.54" x2="542.88" y2="281.54" stroke="#a0a2a4" stroke-width="1"/>
<line x1="480.07" y1="274.19" x2="542.88" y2="274.19" stroke="#a0a2a4" stroke-width="1"/>
<line x1="480.07" y1="267.97" x2="542.88" y2="267.97" stroke="#a0a2a4" stroke-width="1"/>
<line x1="480.07" y1="262.59" x2="542.88" y2="262.59" stroke="#a0a2a4" stroke-width="1"/>
<line x1="480.07" y1="257.85" x2="542.88" y2="257.85" stroke="#a0a2a4" stroke-width="1"/>
<line x1="480.07" y1="225.66" x2="542.88" y2="225.66" stroke="#a0a2a4" stroke-width="1"/>
<line x1="480.07" y1="209.32" x2="542.88" y2="209.32" stroke="#a0a2a4" stroke-width="1"/>
<line x1="480.07" y1="197.73" x2="542.88" y2="197.73" stroke="#a0a2a4" stroke-width="1"/>
<line x1="480.07" y1="188.74" x2="542.88" y2="188.74" stroke="#a0a2a4" stroke-width="1"/>
<line x1="480.07" y1="181.39" x2="542.88" y2="181.39" stroke="#a0a2a4" stroke-width="1"/>
<line x1="480.07" y1="175.17" x2="542.88" y2="175.17" stroke="#a0a2a4" stroke-width="1"/>
<line x1="480.07" y1="169.79" x2="542.88" y2="169.79" stroke="#a0a2a4" stroke-width="1"/>
<line x1="480.07" y1="165.05" x2="542.88" y2="165.05" stroke="#a0a2a4" stroke-width="1"/>
<line x1="480.07" y1="132.86" x2="542.88" y2="132.86" stroke="#a0a2a4" stroke-width="1"/>
<line x1="480.07" y1="116.52" x2="542.88" y2="116.52" stroke="#a0a2a4" stroke-width="1"/>
<line x1="480.07" y1="104.93" x2="542.88" y2="104.93" stroke="#a0a2a4" stroke-width="1"/>
<line x1="480.07" y1="95.94" x2="542.88" y2="95.94" stroke="#a0a2a4" stroke-width="1"/>
<line x1="480.07" y1="88.59" x2="542.88" y2="88.59" stroke="#a0a2a4" stroke-width="1"/>
<line x1="480.07" y1="82.37" x2="542.88" y2="82.37" stroke="#a0a2a4" stroke-width="1"/>
<line x1="480.07" y1="76.99" x2="542.88" y2="76.99" stroke="#a0a2a4" stroke-width="1"/>
<line x1="480.07" y1="72.25" x2="542.88" y2="72.25" stroke="#a0a2a4" stroke-width="1"/>
<line x1="480.07" y1="439.2" x2="542.88" y2="439.2" stroke="#343233" stroke-width="1.1"/>
<line x1="480.07" y1="346.4" x2="542.88" y2="346.4" stroke="#343233" stroke-width="1.1"/>
<line x1="480.07" y1="253.6" x2="542.88" y2="253.6" stroke="#343233" stroke-width="1.1"/>
<line x1="480.07" y1="160.8" x2="542.88" y2="160.8" stroke="#343233" stroke-width="1.1"/>
<line x1="480.07" y1="68" x2="542.88" y2="68" stroke="#343233" stroke-width="1.1"/>
<line x1="511.48" y1="62.3" x2="511.48" y2="447.3" stroke="#9c9ea0" stroke-width="1"/>
<line x1="542.88" y1="444.79" x2="605.69" y2="444.79" stroke="#a0a2a4" stroke-width="1"/>
<line x1="542.88" y1="440.05" x2="605.69" y2="440.05" stroke="#a0a2a4" stroke-width="1"/>
<line x1="542.88" y1="407.86" x2="605.69" y2="407.86" stroke="#a0a2a4" stroke-width="1"/>
<line x1="542.88" y1="391.52" x2="605.69" y2="391.52" stroke="#a0a2a4" stroke-width="1"/>
<line x1="542.88" y1="379.93" x2="605.69" y2="379.93" stroke="#a0a2a4" stroke-width="1"/>
<line x1="542.88" y1="370.94" x2="605.69" y2="370.94" stroke="#a0a2a4" stroke-width="1"/>
<line x1="542.88" y1="363.59" x2="605.69" y2="363.59" stroke="#a0a2a4" stroke-width="1"/>
<line x1="542.88" y1="357.37" x2="605.69" y2="357.37" stroke="#a0a2a4" stroke-width="1"/>
<line x1="542.88" y1="351.99" x2="605.69" y2="351.99" stroke="#a0a2a4" stroke-width="1"/>
<line x1="542.88" y1="347.25" x2="605.69" y2="347.25" stroke="#a0a2a4" stroke-width="1"/>
<line x1="542.88" y1="315.06" x2="605.69" y2="315.06" stroke="#a0a2a4" stroke-width="1"/>
<line x1="542.88" y1="298.72" x2="605.69" y2="298.72" stroke="#a0a2a4" stroke-width="1"/>
<line x1="542.88" y1="287.13" x2="605.69" y2="287.13" stroke="#a0a2a4" stroke-width="1"/>
<line x1="542.88" y1="278.14" x2="605.69" y2="278.14" stroke="#a0a2a4" stroke-width="1"/>
<line x1="542.88" y1="270.79" x2="605.69" y2="270.79" stroke="#a0a2a4" stroke-width="1"/>
<line x1="542.88" y1="264.57" x2="605.69" y2="264.57" stroke="#a0a2a4" stroke-width="1"/>
<line x1="542.88" y1="259.19" x2="605.69" y2="259.19" stroke="#a0a2a4" stroke-width="1"/>
<line x1="542.88" y1="254.45" x2="605.69" y2="254.45" stroke="#a0a2a4" stroke-width="1"/>
<line x1="542.88" y1="222.26" x2="605.69" y2="222.26" stroke="#a0a2a4" stroke-width="1"/>
<line x1="542.88" y1="205.92" x2="605.69" y2="205.92" stroke="#a0a2a4" stroke-width="1"/>
<line x1="542.88" y1="194.33" x2="605.69" y2="194.33" stroke="#a0a2a4" stroke-width="1"/>
<line x1="542.88" y1="185.34" x2="605.69" y2="185.34" stroke="#a0a2a4" stroke-width="1"/>
<line x1="542.88" y1="177.99" x2="605.69" y2="177.99" stroke="#a0a2a4" stroke-width="1"/>
<line x1="542.88" y1="171.77" x2="605.69" y2="171.77" stroke="#a0a2a4" stroke-width="1"/>
<line x1="542.88" y1="166.39" x2="605.69" y2="166.39" stroke="#a0a2a4" stroke-width="1"/>
<line x1="542.88" y1="161.65" x2="605.69" y2="161.65" stroke="#a0a2a4" stroke-width="1"/>
<line x1="542.88" y1="129.46" x2="605.69" y2="129.46" stroke="#a0a2a4" stroke-width="1"/>
<line x1="542.88" y1="113.12" x2="605.69" y2="113.12" stroke="#a0a2a4" stroke-width="1"/>
<line x1="542.88" y1="101.53" x2="605.69" y2="101.53" stroke="#a0a2a4" stroke-width="1"/>
<line x1="542.88" y1="92.54" x2="605.69" y2="92.54" stroke="#a0a2a4" stroke-width="1"/>
<line x1="542.88" y1="85.19" x2="605.69" y2="85.19" stroke="#a0a2a4" stroke-width="1"/>
<line x1="542.88" y1="78.97" x2="605.69" y2="78.97" stroke="#a0a2a4" stroke-width="1"/>
<line x1="542.88" y1="73.59" x2="605.69" y2="73.59" stroke="#a0a2a4" stroke-width="1"/>
<line x1="542.88" y1="68.85" x2="605.69" y2="68.85" stroke="#a0a2a4" stroke-width="1"/>
<line x1="542.88" y1="435.8" x2="605.69" y2="435.8" stroke="#343233" stroke-width="1.1"/>
<line x1="542.88" y1="343" x2="605.69" y2="343" stroke="#343233" stroke-width="1.1"/>
<line x1="542.88" y1="250.2" x2="605.69" y2="250.2" stroke="#343233" stroke-width="1.1"/>
<line x1="542.88" y1="157.4" x2="605.69" y2="157.4" stroke="#343233" stroke-width="1.1"/>
<line x1="542.88" y1="64.6" x2="605.69" y2="64.6" stroke="#343233" stroke-width="1.1"/>
<line x1="574.28" y1="62.3" x2="574.28" y2="447.3" stroke="#9c9ea0" stroke-width="1"/>
<line x1="605.69" y1="443.52" x2="668.5" y2="443.52" stroke="#a0a2a4" stroke-width="1"/>
<line x1="605.69" y1="431.93" x2="668.5" y2="431.93" stroke="#a0a2a4" stroke-width="1"/>
<line x1="605.69" y1="422.94" x2="668.5" y2="422.94" stroke="#a0a2a4" stroke-width="1"/>
<line x1="605.69" y1="415.59" x2="668.5" y2="415.59" stroke="#a0a2a4" stroke-width="1"/>
<line x1="605.69" y1="409.37" x2="668.5" y2="409.37" stroke="#a0a2a4" stroke-width="1"/>
<line x1="605.69" y1="403.99" x2="668.5" y2="403.99" stroke="#a0a2a4" stroke-width="1"/>
<line x1="605.69" y1="399.25" x2="668.5" y2="399.25" stroke="#a0a2a4" stroke-width="1"/>
<line x1="605.69" y1="367.06" x2="668.5" y2="367.06" stroke="#a0a2a4" stroke-width="1"/>
<line x1="605.69" y1="350.72" x2="668.5" y2="350.72" stroke="#a0a2a4" stroke-width="1"/>
<line x1="605.69" y1="339.13" x2="668.5" y2="339.13" stroke="#a0a2a4" stroke-width="1"/>
<line x1="605.69" y1="330.14" x2="668.5" y2="330.14" stroke="#a0a2a4" stroke-width="1"/>
<line x1="605.69" y1="322.79" x2="668.5" y2="322.79" stroke="#a0a2a4" stroke-width="1"/>
<line x1="605.69" y1="316.57" x2="668.5" y2="316.57" stroke="#a0a2a4" stroke-width="1"/>
<line x1="605.69" y1="311.19" x2="668.5" y2="311.19" stroke="#a0a2a4" stroke-width="1"/>
<line x1="605.69" y1="306.45" x2="668.5" y2="306.45" stroke="#a0a2a4" stroke-width="1"/>
<line x1="605.69" y1="274.26" x2="668.5" y2="274.26" stroke="#a0a2a4" stroke-width="1"/>
<line x1="605.69" y1="257.92" x2="668.5" y2="257.92" stroke="#a0a2a4" stroke-width="1"/>
<line x1="605.69" y1="246.33" x2="668.5" y2="246.33" stroke="#a0a2a4" stroke-width="1"/>
<line x1="605.69" y1="237.34" x2="668.5" y2="237.34" stroke="#a0a2a4" stroke-width="1"/>
<line x1="605.69" y1="229.99" x2="668.5" y2="229.99" stroke="#a0a2a4" stroke-width="1"/>
<line x1="605.69" y1="223.77" x2="668.5" y2="223.77" stroke="#a0a2a4" stroke-width="1"/>
<line x1="605.69" y1="218.39" x2="668.5" y2="218.39" stroke="#a0a2a4" stroke-width="1"/>
<line x1="605.69" y1="213.65" x2="668.5" y2="213.65" stroke="#a0a2a4" stroke-width="1"/>
<line x1="605.69" y1="181.46" x2="668.5" y2="181.46" stroke="#a0a2a4" stroke-width="1"/>
<line x1="605.69" y1="165.12" x2="668.5" y2="165.12" stroke="#a0a2a4" stroke-width="1"/>
<line x1="605.69" y1="153.53" x2="668.5" y2="153.53" stroke="#a0a2a4" stroke-width="1"/>
<line x1="605.69" y1="144.54" x2="668.5" y2="144.54" stroke="#a0a2a4" stroke-width="1"/>
<line x1="605.69" y1="137.19" x2="668.5" y2="137.19" stroke="#a0a2a4" stroke-width="1"/>
<line x1="605.69" y1="130.97" x2="668.5" y2="130.97" stroke="#a0a2a4" stroke-width="1"/>
<line x1="605.69" y1="125.59" x2="668.5" y2="125.59" stroke="#a0a2a4" stroke-width="1"/>
<line x1="605.69" y1="120.85" x2="668.5" y2="120.85" stroke="#a0a2a4" stroke-width="1"/>
<line x1="605.69" y1="88.66" x2="668.5" y2="88.66" stroke="#a0a2a4" stroke-width="1"/>
<line x1="605.69" y1="72.32" x2="668.5" y2="72.32" stroke="#a0a2a4" stroke-width="1"/>
<line x1="605.69" y1="395" x2="668.5" y2="395" stroke="#343233" stroke-width="1.1"/>
<line x1="605.69" y1="302.2" x2="668.5" y2="302.2" stroke="#343233" stroke-width="1.1"/>
<line x1="605.69" y1="209.4" x2="668.5" y2="209.4" stroke="#343233" stroke-width="1.1"/>
<line x1="605.69" y1="116.6" x2="668.5" y2="116.6" stroke="#343233" stroke-width="1.1"/>
<line x1="637.1" y1="62.3" x2="637.1" y2="447.3" stroke="#9c9ea0" stroke-width="1"/>
<line x1="103.21" y1="62.3" x2="103.21" y2="447.3" stroke="#4d4b4c" stroke-width="1.1"/>
<line x1="166.02" y1="62.3" x2="166.02" y2="447.3" stroke="#4d4b4c" stroke-width="1.1"/>
<line x1="228.83" y1="62.3" x2="228.83" y2="447.3" stroke="#4d4b4c" stroke-width="1.1"/>
<line x1="291.64" y1="62.3" x2="291.64" y2="447.3" stroke="#4d4b4c" stroke-width="1.1"/>
<line x1="354.45" y1="62.3" x2="354.45" y2="447.3" stroke="#4d4b4c" stroke-width="1.1"/>
<line x1="417.26" y1="62.3" x2="417.26" y2="447.3" stroke="#4d4b4c" stroke-width="1.1"/>
<line x1="480.07" y1="62.3" x2="480.07" y2="447.3" stroke="#4d4b4c" stroke-width="1.1"/>
<line x1="542.88" y1="62.3" x2="542.88" y2="447.3" stroke="#4d4b4c" stroke-width="1.1"/>
<line x1="605.69" y1="62.3" x2="605.69" y2="447.3" stroke="#4d4b4c" stroke-width="1.1"/>
<rect x="40.4" y="62.3" width="628.1" height="385" fill="none" stroke="#4d4b4c" stroke-width="1.4"/>
<polyline points="71.81,112.8 134.62,112.5 197.43,113 260.24,112.6 323.04,112.8 385.86,112.5 448.66,113.5 511.48,113.2 574.28,113.6 637.1,112.5" fill="none" stroke="#d7372b" stroke-width="2.1" stroke-linejoin="round"/>
<circle cx="71.81" cy="112.8" r="3.7" fill="#d7372b"/>
<circle cx="134.62" cy="112.5" r="3.7" fill="#d7372b"/>
<circle cx="197.43" cy="113" r="3.7" fill="#d7372b"/>
<circle cx="260.24" cy="112.6" r="3.7" fill="#d7372b"/>
<circle cx="323.04" cy="112.8" r="3.7" fill="#d7372b"/>
<circle cx="385.86" cy="112.5" r="3.7" fill="#d7372b"/>
<circle cx="448.66" cy="113.5" r="3.7" fill="#d7372b"/>
<circle cx="511.48" cy="113.2" r="3.7" fill="#d7372b"/>
<circle cx="574.28" cy="113.6" r="3.7" fill="#d7372b"/>
<circle cx="637.1" cy="112.5" r="3.7" fill="#d7372b"/>
<polyline points="71.81,152 134.62,129.5 197.43,90.6 260.24,166.8 323.04,158.7 385.86,151 448.66,201.4 511.48,123.9 574.28,117.3 637.1,151.8" fill="none" stroke="#ee7a2b" stroke-width="2.1" stroke-linejoin="round"/>
<circle cx="71.81" cy="152" r="3.7" fill="#ee7a2b"/>
<circle cx="134.62" cy="129.5" r="3.7" fill="#ee7a2b"/>
<circle cx="197.43" cy="90.6" r="3.7" fill="#ee7a2b"/>
<circle cx="260.24" cy="166.8" r="3.7" fill="#ee7a2b"/>
<circle cx="323.04" cy="158.7" r="3.7" fill="#ee7a2b"/>
<circle cx="385.86" cy="151" r="3.7" fill="#ee7a2b"/>
<circle cx="448.66" cy="201.4" r="3.7" fill="#ee7a2b"/>
<circle cx="511.48" cy="123.9" r="3.7" fill="#ee7a2b"/>
<circle cx="574.28" cy="117.3" r="3.7" fill="#ee7a2b"/>
<circle cx="637.1" cy="151.8" r="3.7" fill="#ee7a2b"/>
<polyline points="71.81,161 134.62,142.8 197.43,110.9 260.24,146.6 323.04,164.6 385.86,161.8 448.66,139 511.48,117.5 574.28,101 637.1,158.9" fill="none" stroke="#5e2e91" stroke-width="2.1" stroke-linejoin="round"/>
<circle cx="71.81" cy="161" r="3.7" fill="#5e2e91"/>
<circle cx="134.62" cy="142.8" r="3.7" fill="#5e2e91"/>
<circle cx="197.43" cy="110.9" r="3.7" fill="#5e2e91"/>
<circle cx="260.24" cy="146.6" r="3.7" fill="#5e2e91"/>
<circle cx="323.04" cy="164.6" r="3.7" fill="#5e2e91"/>
<circle cx="385.86" cy="161.8" r="3.7" fill="#5e2e91"/>
<circle cx="448.66" cy="139" r="3.7" fill="#5e2e91"/>
<circle cx="511.48" cy="117.5" r="3.7" fill="#5e2e91"/>
<circle cx="574.28" cy="101" r="3.7" fill="#5e2e91"/>
<circle cx="637.1" cy="158.9" r="3.7" fill="#5e2e91"/>
<polyline points="71.81,173.1 134.62,147.2 197.43,121 260.24,177.5 323.04,177.1 385.86,173.6 448.66,152.8 511.48,151.8 574.28,139.2 637.1,171.3" fill="none" stroke="#1d6fb8" stroke-width="2.1" stroke-linejoin="round"/>
<circle cx="71.81" cy="173.1" r="3.7" fill="#1d6fb8"/>
<circle cx="134.62" cy="147.2" r="3.7" fill="#1d6fb8"/>
<circle cx="197.43" cy="121" r="3.7" fill="#1d6fb8"/>
<circle cx="260.24" cy="177.5" r="3.7" fill="#1d6fb8"/>
<circle cx="323.04" cy="177.1" r="3.7" fill="#1d6fb8"/>
<circle cx="385.86" cy="173.6" r="3.7" fill="#1d6fb8"/>
<circle cx="448.66" cy="152.8" r="3.7" fill="#1d6fb8"/>
<circle cx="511.48" cy="151.8" r="3.7" fill="#1d6fb8"/>
<circle cx="574.28" cy="139.2" r="3.7" fill="#1d6fb8"/>
<circle cx="637.1" cy="171.3" r="3.7" fill="#1d6fb8"/>
<polyline points="71.81,177.8 134.62,160.4 197.43,127.9 260.24,141.2 323.04,185.9 385.86,179.4 448.66,156.2 511.48,134.8 574.28,155.7 637.1,176.5" fill="none" stroke="#a44a9f" stroke-width="2.1" stroke-linejoin="round"/>
<circle cx="71.81" cy="177.8" r="3.7" fill="#a44a9f"/>
<circle cx="134.62" cy="160.4" r="3.7" fill="#a44a9f"/>
<circle cx="197.43" cy="127.9" r="3.7" fill="#a44a9f"/>
<circle cx="260.24" cy="141.2" r="3.7" fill="#a44a9f"/>
<circle cx="323.04" cy="185.9" r="3.7" fill="#a44a9f"/>
<circle cx="385.86" cy="179.4" r="3.7" fill="#a44a9f"/>
<circle cx="448.66" cy="156.2" r="3.7" fill="#a44a9f"/>
<circle cx="511.48" cy="134.8" r="3.7" fill="#a44a9f"/>
<circle cx="574.28" cy="155.7" r="3.7" fill="#a44a9f"/>
<circle cx="637.1" cy="176.5" r="3.7" fill="#a44a9f"/>
<polyline points="71.81,180.2 134.62,158.3 197.43,151.2 260.24,214.9 323.04,182.2 385.86,181 448.66,158.5 511.48,141.2 574.28,94.8 637.1,178.5" fill="none" stroke="#7dc24b" stroke-width="2.1" stroke-linejoin="round"/>
<circle cx="71.81" cy="180.2" r="3.7" fill="#7dc24b"/>
<circle cx="134.62" cy="158.3" r="3.7" fill="#7dc24b"/>
<circle cx="197.43" cy="151.2" r="3.7" fill="#7dc24b"/>
<circle cx="260.24" cy="214.9" r="3.7" fill="#7dc24b"/>
<circle cx="323.04" cy="182.2" r="3.7" fill="#7dc24b"/>
<circle cx="385.86" cy="181" r="3.7" fill="#7dc24b"/>
<circle cx="448.66" cy="158.5" r="3.7" fill="#7dc24b"/>
<circle cx="511.48" cy="141.2" r="3.7" fill="#7dc24b"/>
<circle cx="574.28" cy="94.8" r="3.7" fill="#7dc24b"/>
<circle cx="637.1" cy="178.5" r="3.7" fill="#7dc24b"/>
<polyline points="71.81,205.8 134.62,186.5 197.43,157.3 260.24,210.7 323.04,208.6 385.86,205.4 448.66,185.6 511.48,186 574.28,138.4 637.1,204.2" fill="none" stroke="#2aa8e0" stroke-width="2.1" stroke-linejoin="round"/>
<circle cx="71.81" cy="205.8" r="3.7" fill="#2aa8e0"/>
<circle cx="134.62" cy="186.5" r="3.7" fill="#2aa8e0"/>
<circle cx="197.43" cy="157.3" r="3.7" fill="#2aa8e0"/>
<circle cx="260.24" cy="210.7" r="3.7" fill="#2aa8e0"/>
<circle cx="323.04" cy="208.6" r="3.7" fill="#2aa8e0"/>
<circle cx="385.86" cy="205.4" r="3.7" fill="#2aa8e0"/>
<circle cx="448.66" cy="185.6" r="3.7" fill="#2aa8e0"/>
<circle cx="511.48" cy="186" r="3.7" fill="#2aa8e0"/>
<circle cx="574.28" cy="138.4" r="3.7" fill="#2aa8e0"/>
<circle cx="637.1" cy="204.2" r="3.7" fill="#2aa8e0"/>
<polyline points="71.81,358 134.62,296.4 197.43,254 260.24,360.2 323.04,381.2 385.86,390.2 448.66,290 511.48,240.8 574.28,448.3" fill="none" stroke="#939598" stroke-width="2.1" stroke-linejoin="round"/>
<circle cx="71.81" cy="358" r="3.7" fill="#939598"/>
<circle cx="134.62" cy="296.4" r="3.7" fill="#939598"/>
<circle cx="197.43" cy="254" r="3.7" fill="#939598"/>
<circle cx="260.24" cy="360.2" r="3.7" fill="#939598"/>
<circle cx="323.04" cy="381.2" r="3.7" fill="#939598"/>
<circle cx="385.86" cy="390.2" r="3.7" fill="#939598"/>
<circle cx="448.66" cy="290" r="3.7" fill="#939598"/>
<circle cx="511.48" cy="240.8" r="3.7" fill="#939598"/>
<circle cx="574.28" cy="448.3" r="3.7" fill="#939598"/>
<polyline points="71.81,113.9 134.62,112.8 197.43,113.5 260.24,113.3 323.04,114.4 385.86,113.3 448.66,113 511.48,111.9 574.28,110.9 637.1,114" fill="none" stroke="#17a84b" stroke-width="2.1" stroke-linejoin="round"/>
<circle cx="71.81" cy="113.9" r="3.7" fill="#17a84b"/>
<circle cx="134.62" cy="112.8" r="3.7" fill="#17a84b"/>
<circle cx="197.43" cy="113.5" r="3.7" fill="#17a84b"/>
<circle cx="260.24" cy="113.3" r="3.7" fill="#17a84b"/>
<circle cx="323.04" cy="114.4" r="3.7" fill="#17a84b"/>
<circle cx="385.86" cy="113.3" r="3.7" fill="#17a84b"/>
<circle cx="448.66" cy="113" r="3.7" fill="#17a84b"/>
<circle cx="511.48" cy="111.9" r="3.7" fill="#17a84b"/>
<circle cx="574.28" cy="110.9" r="3.7" fill="#17a84b"/>
<circle cx="637.1" cy="114" r="3.7" fill="#17a84b"/>
<polyline points="71.81,183.4 134.62,164.1 197.43,132.7 260.24,152.4 323.04,187.5 385.86,183.7 448.66,160 511.48,173.7 574.28,246.1 637.1,182" fill="none" stroke="#fbb62b" stroke-width="2.1" stroke-linejoin="round"/>
<circle cx="71.81" cy="183.4" r="3.7" fill="#fbb62b"/>
<circle cx="134.62" cy="164.1" r="3.7" fill="#fbb62b"/>
<circle cx="197.43" cy="132.7" r="3.7" fill="#fbb62b"/>
<circle cx="260.24" cy="152.4" r="3.7" fill="#fbb62b"/>
<circle cx="323.04" cy="187.5" r="3.7" fill="#fbb62b"/>
<circle cx="385.86" cy="183.7" r="3.7" fill="#fbb62b"/>
<circle cx="448.66" cy="160" r="3.7" fill="#fbb62b"/>
<circle cx="511.48" cy="173.7" r="3.7" fill="#fbb62b"/>
<circle cx="574.28" cy="246.1" r="3.7" fill="#fbb62b"/>
<circle cx="637.1" cy="182" r="3.7" fill="#fbb62b"/>
<polyline points="71.81,166 134.62,152.4 197.43,116.7 260.24,165.2 323.04,168.8 385.86,166.3 448.66,142.5 511.48,131 574.28,99 637.1,164.1" fill="none" stroke="#5b2c0a" stroke-width="2.1" stroke-linejoin="round"/>
<circle cx="71.81" cy="166" r="3.7" fill="#5b2c0a"/>
<circle cx="134.62" cy="152.4" r="3.7" fill="#5b2c0a"/>
<circle cx="197.43" cy="116.7" r="3.7" fill="#5b2c0a"/>
<circle cx="260.24" cy="165.2" r="3.7" fill="#5b2c0a"/>
<circle cx="323.04" cy="168.8" r="3.7" fill="#5b2c0a"/>
<circle cx="385.86" cy="166.3" r="3.7" fill="#5b2c0a"/>
<circle cx="448.66" cy="142.5" r="3.7" fill="#5b2c0a"/>
<circle cx="511.48" cy="131" r="3.7" fill="#5b2c0a"/>
<circle cx="574.28" cy="99" r="3.7" fill="#5b2c0a"/>
<circle cx="637.1" cy="164.1" r="3.7" fill="#5b2c0a"/>
<line x1="71.81" y1="238.6" x2="134.62" y2="238.9" stroke="#1d6fb8" stroke-width="2.1" stroke-dasharray="3.9 2.1"/>
<line x1="134.62" y1="238.9" x2="197.43" y2="206" stroke="#1d6fb8" stroke-width="2.1" stroke-dasharray="3.9 2.1"/>
<line x1="197.43" y1="206" x2="260.24" y2="236" stroke="#1d6fb8" stroke-width="2.1" stroke-dasharray="3.9 2.1"/>
<line x1="260.24" y1="236" x2="323.04" y2="240.5" stroke="#1d6fb8" stroke-width="2.1" stroke-dasharray="3.9 2.1"/>
<line x1="323.04" y1="240.5" x2="385.86" y2="242.2" stroke="#1d6fb8" stroke-width="2.1" stroke-dasharray="3.9 2.1"/>
<line x1="385.86" y1="242.2" x2="448.66" y2="212.6" stroke="#1d6fb8" stroke-width="2.1" stroke-dasharray="3.9 2.1"/>
<line x1="448.66" y1="212.6" x2="511.48" y2="200.8" stroke="#1d6fb8" stroke-width="2.1" stroke-dasharray="3.9 2.1"/>
<line x1="511.48" y1="200.8" x2="574.28" y2="184.2" stroke="#1d6fb8" stroke-width="2.1" stroke-dasharray="3.9 2.1"/>
<line x1="574.28" y1="184.2" x2="637.1" y2="237.7" stroke="#1d6fb8" stroke-width="2.1" stroke-dasharray="3.9 2.1"/>
<circle cx="71.81" cy="238.6" r="3.7" fill="#1d6fb8"/>
<circle cx="134.62" cy="238.9" r="3.7" fill="#1d6fb8"/>
<circle cx="197.43" cy="206" r="3.7" fill="#1d6fb8"/>
<circle cx="260.24" cy="236" r="3.7" fill="#1d6fb8"/>
<circle cx="323.04" cy="240.5" r="3.7" fill="#1d6fb8"/>
<circle cx="385.86" cy="242.2" r="3.7" fill="#1d6fb8"/>
<circle cx="448.66" cy="212.6" r="3.7" fill="#1d6fb8"/>
<circle cx="511.48" cy="200.8" r="3.7" fill="#1d6fb8"/>
<circle cx="574.28" cy="184.2" r="3.7" fill="#1d6fb8"/>
<circle cx="637.1" cy="237.7" r="3.7" fill="#1d6fb8"/>
<line x1="71.81" y1="239.6" x2="134.62" y2="240.4" stroke="#a44a9f" stroke-width="2.1" stroke-dasharray="3.5 3.6"/>
<line x1="134.62" y1="240.4" x2="197.43" y2="209.7" stroke="#a44a9f" stroke-width="2.1" stroke-dasharray="3.5 3.6"/>
<line x1="197.43" y1="209.7" x2="260.24" y2="228" stroke="#a44a9f" stroke-width="2.1" stroke-dasharray="3.5 3.6"/>
<line x1="260.24" y1="228" x2="323.04" y2="241.4" stroke="#a44a9f" stroke-width="2.1" stroke-dasharray="3.5 3.6"/>
<line x1="323.04" y1="241.4" x2="385.86" y2="244.3" stroke="#a44a9f" stroke-width="2.1" stroke-dasharray="3.5 3.6"/>
<line x1="385.86" y1="244.3" x2="448.66" y2="207.5" stroke="#a44a9f" stroke-width="2.1" stroke-dasharray="3.5 3.6"/>
<line x1="448.66" y1="207.5" x2="511.48" y2="194.2" stroke="#a44a9f" stroke-width="2.1" stroke-dasharray="3.5 3.6"/>
<line x1="511.48" y1="194.2" x2="574.28" y2="225.3" stroke="#a44a9f" stroke-width="2.1" stroke-dasharray="3.5 3.6"/>
<line x1="574.28" y1="225.3" x2="637.1" y2="238.2" stroke="#a44a9f" stroke-width="2.1" stroke-dasharray="3.5 3.6"/>
<circle cx="71.81" cy="239.6" r="3.7" fill="#a44a9f"/>
<circle cx="134.62" cy="240.4" r="3.7" fill="#a44a9f"/>
<circle cx="197.43" cy="209.7" r="3.7" fill="#a44a9f"/>
<circle cx="260.24" cy="228" r="3.7" fill="#a44a9f"/>
<circle cx="323.04" cy="241.4" r="3.7" fill="#a44a9f"/>
<circle cx="385.86" cy="244.3" r="3.7" fill="#a44a9f"/>
<circle cx="448.66" cy="207.5" r="3.7" fill="#a44a9f"/>
<circle cx="511.48" cy="194.2" r="3.7" fill="#a44a9f"/>
<circle cx="574.28" cy="225.3" r="3.7" fill="#a44a9f"/>
<circle cx="637.1" cy="238.2" r="3.7" fill="#a44a9f"/>
<line x1="71.81" y1="257.1" x2="134.62" y2="273.1" stroke="#7dc24b" stroke-width="2.1" stroke-dasharray="3.5 3.6"/>
<line x1="134.62" y1="273.1" x2="197.43" y2="230.5" stroke="#7dc24b" stroke-width="2.1" stroke-dasharray="3.5 3.6"/>
<line x1="197.43" y1="230.5" x2="260.24" y2="255.8" stroke="#7dc24b" stroke-width="2.1" stroke-dasharray="3.5 3.6"/>
<line x1="260.24" y1="255.8" x2="323.04" y2="256.5" stroke="#7dc24b" stroke-width="2.1" stroke-dasharray="3.5 3.6"/>
<line x1="323.04" y1="256.5" x2="385.86" y2="268.2" stroke="#7dc24b" stroke-width="2.1" stroke-dasharray="3.5 3.6"/>
<line x1="385.86" y1="268.2" x2="448.66" y2="222.9" stroke="#7dc24b" stroke-width="2.1" stroke-dasharray="3.5 3.6"/>
<line x1="448.66" y1="222.9" x2="511.48" y2="174.8" stroke="#7dc24b" stroke-width="2.1" stroke-dasharray="3.5 3.6"/>
<line x1="511.48" y1="174.8" x2="574.28" y2="218.4" stroke="#7dc24b" stroke-width="2.1" stroke-dasharray="3.5 3.6"/>
<line x1="574.28" y1="218.4" x2="637.1" y2="252.9" stroke="#7dc24b" stroke-width="2.1" stroke-dasharray="3.5 3.6"/>
<circle cx="71.81" cy="257.1" r="3.7" fill="#7dc24b"/>
<circle cx="134.62" cy="273.1" r="3.7" fill="#7dc24b"/>
<circle cx="197.43" cy="230.5" r="3.7" fill="#7dc24b"/>
<circle cx="260.24" cy="255.8" r="3.7" fill="#7dc24b"/>
<circle cx="323.04" cy="256.5" r="3.7" fill="#7dc24b"/>
<circle cx="385.86" cy="268.2" r="3.7" fill="#7dc24b"/>
<circle cx="448.66" cy="222.9" r="3.7" fill="#7dc24b"/>
<circle cx="511.48" cy="174.8" r="3.7" fill="#7dc24b"/>
<circle cx="574.28" cy="218.4" r="3.7" fill="#7dc24b"/>
<circle cx="637.1" cy="252.9" r="3.7" fill="#7dc24b"/>
<line x1="71.81" y1="350.5" x2="134.62" y2="316.3" stroke="#2aa8e0" stroke-width="2.1" stroke-dasharray="3.5 3.6"/>
<line x1="134.62" y1="316.3" x2="197.43" y2="284.3" stroke="#2aa8e0" stroke-width="2.1" stroke-dasharray="3.5 3.6"/>
<line x1="197.43" y1="284.3" x2="260.24" y2="337.8" stroke="#2aa8e0" stroke-width="2.1" stroke-dasharray="3.5 3.6"/>
<line x1="260.24" y1="337.8" x2="323.04" y2="357.5" stroke="#2aa8e0" stroke-width="2.1" stroke-dasharray="3.5 3.6"/>
<line x1="323.04" y1="357.5" x2="385.86" y2="357.2" stroke="#2aa8e0" stroke-width="2.1" stroke-dasharray="3.5 3.6"/>
<line x1="385.86" y1="357.2" x2="448.66" y2="313.7" stroke="#2aa8e0" stroke-width="2.1" stroke-dasharray="3.5 3.6"/>
<line x1="448.66" y1="313.7" x2="511.48" y2="280.7" stroke="#2aa8e0" stroke-width="2.1" stroke-dasharray="3.5 3.6"/>
<line x1="511.48" y1="280.7" x2="574.28" y2="285.5" stroke="#2aa8e0" stroke-width="2.1" stroke-dasharray="3.5 3.6"/>
<line x1="574.28" y1="285.5" x2="637.1" y2="345.7" stroke="#2aa8e0" stroke-width="2.1" stroke-dasharray="3.5 3.6"/>
<circle cx="71.81" cy="350.5" r="3.7" fill="#2aa8e0"/>
<circle cx="134.62" cy="316.3" r="3.7" fill="#2aa8e0"/>
<circle cx="197.43" cy="284.3" r="3.7" fill="#2aa8e0"/>
<circle cx="260.24" cy="337.8" r="3.7" fill="#2aa8e0"/>
<circle cx="323.04" cy="357.5" r="3.7" fill="#2aa8e0"/>
<circle cx="385.86" cy="357.2" r="3.7" fill="#2aa8e0"/>
<circle cx="448.66" cy="313.7" r="3.7" fill="#2aa8e0"/>
<circle cx="511.48" cy="280.7" r="3.7" fill="#2aa8e0"/>
<circle cx="574.28" cy="285.5" r="3.7" fill="#2aa8e0"/>
<circle cx="637.1" cy="345.7" r="3.7" fill="#2aa8e0"/>
<polyline points="71.81,360.4 134.62,276 197.43,236.4 260.24,368.8 323.04,419.3 385.86,407.8 448.66,289.3 511.48,229.6 574.28,448.3 637.1,344.1" fill="none" stroke="#231f20" stroke-width="2.1" stroke-linejoin="round"/>
<circle cx="71.81" cy="360.4" r="3.7" fill="#231f20"/>
<circle cx="134.62" cy="276" r="3.7" fill="#231f20"/>
<circle cx="197.43" cy="236.4" r="3.7" fill="#231f20"/>
<circle cx="260.24" cy="368.8" r="3.7" fill="#231f20"/>
<circle cx="323.04" cy="419.3" r="3.7" fill="#231f20"/>
<circle cx="385.86" cy="407.8" r="3.7" fill="#231f20"/>
<circle cx="448.66" cy="289.3" r="3.7" fill="#231f20"/>
<circle cx="511.48" cy="229.6" r="3.7" fill="#231f20"/>
<circle cx="574.28" cy="448.3" r="3.7" fill="#231f20"/>
<circle cx="637.1" cy="344.1" r="3.7" fill="#231f20"/>
<text x="71.81" y="161.1" text-anchor="middle" font-size="15">1000</text>
<text x="71.81" y="253.9" text-anchor="middle" font-size="15">100</text>
<text x="71.81" y="346.7" text-anchor="middle" font-size="15">10</text>
<text x="134.62" y="152.2" text-anchor="middle" font-size="15">1000</text>
<text x="134.62" y="245" text-anchor="middle" font-size="15">100</text>
<text x="134.62" y="337.8" text-anchor="middle" font-size="15">10</text>
<text x="197.43" y="167.9" text-anchor="middle" font-size="15">100</text>
<text x="197.43" y="260.7" text-anchor="middle" font-size="15">10</text>
<text x="197.43" y="353.5" text-anchor="middle" font-size="15">1</text>
<text x="260.24" y="139" text-anchor="middle" font-size="15">1000</text>
<text x="260.24" y="231.8" text-anchor="middle" font-size="15">100</text>
<text x="260.24" y="324.6" text-anchor="middle" font-size="15">10</text>
<text x="260.24" y="417.4" text-anchor="middle" font-size="15">1</text>
<text x="323.04" y="163.2" text-anchor="middle" font-size="15">10000</text>
<text x="323.04" y="256" text-anchor="middle" font-size="15">1000</text>
<text x="323.04" y="348.8" text-anchor="middle" font-size="15">100</text>
<text x="385.86" y="89.6" text-anchor="middle" font-size="15">100000</text>
<text x="385.86" y="182.4" text-anchor="middle" font-size="15">10000</text>
<text x="385.86" y="275.2" text-anchor="middle" font-size="15">1000</text>
<text x="385.86" y="368" text-anchor="middle" font-size="15">100</text>
<text x="448.66" y="151.1" text-anchor="middle" font-size="15">1000</text>
<text x="448.66" y="243.9" text-anchor="middle" font-size="15">100</text>
<text x="448.66" y="336.7" text-anchor="middle" font-size="15">10</text>
<text x="511.48" y="158.9" text-anchor="middle" font-size="15">1000</text>
<text x="511.48" y="251.7" text-anchor="middle" font-size="15">100</text>
<text x="511.48" y="344.5" text-anchor="middle" font-size="15">10</text>
<text x="574.28" y="155.5" text-anchor="middle" font-size="15">10</text>
<text x="574.28" y="248.3" text-anchor="middle" font-size="15">1</text>
<text x="574.28" y="341.1" text-anchor="middle" font-size="15">0.1</text>
<text x="637.1" y="114.7" text-anchor="middle" font-size="15">100000</text>
<text x="637.1" y="207.5" text-anchor="middle" font-size="15">10000</text>
<text x="637.1" y="300.3" text-anchor="middle" font-size="15">1000</text>
<text x="637.1" y="393.1" text-anchor="middle" font-size="15">100</text>
<rect x="553.78" y="433.1" width="41" height="13.4" fill="#fff" fill-opacity="0.85"/>
<text x="574.28" y="444.9" text-anchor="middle" font-size="15">&lt; 0.01</text>
<line x1="40.4" y1="836.85" x2="668.5" y2="836.85" stroke="#a0a2a4" stroke-width="1"/>
<line x1="40.4" y1="828.86" x2="668.5" y2="828.86" stroke="#a0a2a4" stroke-width="1"/>
<line x1="40.4" y1="822.66" x2="668.5" y2="822.66" stroke="#a0a2a4" stroke-width="1"/>
<line x1="40.4" y1="817.59" x2="668.5" y2="817.59" stroke="#a0a2a4" stroke-width="1"/>
<line x1="40.4" y1="813.31" x2="668.5" y2="813.31" stroke="#a0a2a4" stroke-width="1"/>
<line x1="40.4" y1="809.6" x2="668.5" y2="809.6" stroke="#a0a2a4" stroke-width="1"/>
<line x1="40.4" y1="806.33" x2="668.5" y2="806.33" stroke="#a0a2a4" stroke-width="1"/>
<line x1="40.4" y1="784.14" x2="668.5" y2="784.14" stroke="#a0a2a4" stroke-width="1"/>
<line x1="40.4" y1="772.88" x2="668.5" y2="772.88" stroke="#a0a2a4" stroke-width="1"/>
<line x1="40.4" y1="764.89" x2="668.5" y2="764.89" stroke="#a0a2a4" stroke-width="1"/>
<line x1="40.4" y1="758.69" x2="668.5" y2="758.69" stroke="#a0a2a4" stroke-width="1"/>
<line x1="40.4" y1="753.62" x2="668.5" y2="753.62" stroke="#a0a2a4" stroke-width="1"/>
<line x1="40.4" y1="749.34" x2="668.5" y2="749.34" stroke="#a0a2a4" stroke-width="1"/>
<line x1="40.4" y1="745.63" x2="668.5" y2="745.63" stroke="#a0a2a4" stroke-width="1"/>
<line x1="40.4" y1="742.36" x2="668.5" y2="742.36" stroke="#a0a2a4" stroke-width="1"/>
<line x1="40.4" y1="720.17" x2="668.5" y2="720.17" stroke="#a0a2a4" stroke-width="1"/>
<line x1="40.4" y1="708.91" x2="668.5" y2="708.91" stroke="#a0a2a4" stroke-width="1"/>
<line x1="40.4" y1="700.92" x2="668.5" y2="700.92" stroke="#a0a2a4" stroke-width="1"/>
<line x1="40.4" y1="694.72" x2="668.5" y2="694.72" stroke="#a0a2a4" stroke-width="1"/>
<line x1="40.4" y1="689.65" x2="668.5" y2="689.65" stroke="#a0a2a4" stroke-width="1"/>
<line x1="40.4" y1="685.37" x2="668.5" y2="685.37" stroke="#a0a2a4" stroke-width="1"/>
<line x1="40.4" y1="681.66" x2="668.5" y2="681.66" stroke="#a0a2a4" stroke-width="1"/>
<line x1="40.4" y1="678.39" x2="668.5" y2="678.39" stroke="#a0a2a4" stroke-width="1"/>
<line x1="40.4" y1="656.2" x2="668.5" y2="656.2" stroke="#a0a2a4" stroke-width="1"/>
<line x1="40.4" y1="644.94" x2="668.5" y2="644.94" stroke="#a0a2a4" stroke-width="1"/>
<line x1="40.4" y1="636.95" x2="668.5" y2="636.95" stroke="#a0a2a4" stroke-width="1"/>
<line x1="40.4" y1="630.75" x2="668.5" y2="630.75" stroke="#a0a2a4" stroke-width="1"/>
<line x1="40.4" y1="625.68" x2="668.5" y2="625.68" stroke="#a0a2a4" stroke-width="1"/>
<line x1="40.4" y1="621.4" x2="668.5" y2="621.4" stroke="#a0a2a4" stroke-width="1"/>
<line x1="40.4" y1="617.69" x2="668.5" y2="617.69" stroke="#a0a2a4" stroke-width="1"/>
<line x1="40.4" y1="614.42" x2="668.5" y2="614.42" stroke="#a0a2a4" stroke-width="1"/>
<line x1="40.4" y1="592.23" x2="668.5" y2="592.23" stroke="#a0a2a4" stroke-width="1"/>
<line x1="40.4" y1="580.97" x2="668.5" y2="580.97" stroke="#a0a2a4" stroke-width="1"/>
<line x1="40.4" y1="572.98" x2="668.5" y2="572.98" stroke="#a0a2a4" stroke-width="1"/>
<line x1="40.4" y1="566.78" x2="668.5" y2="566.78" stroke="#a0a2a4" stroke-width="1"/>
<line x1="40.4" y1="561.71" x2="668.5" y2="561.71" stroke="#a0a2a4" stroke-width="1"/>
<line x1="40.4" y1="557.43" x2="668.5" y2="557.43" stroke="#a0a2a4" stroke-width="1"/>
<line x1="40.4" y1="553.72" x2="668.5" y2="553.72" stroke="#a0a2a4" stroke-width="1"/>
<line x1="40.4" y1="550.45" x2="668.5" y2="550.45" stroke="#a0a2a4" stroke-width="1"/>
<line x1="40.4" y1="528.26" x2="668.5" y2="528.26" stroke="#a0a2a4" stroke-width="1"/>
<line x1="40.4" y1="517" x2="668.5" y2="517" stroke="#a0a2a4" stroke-width="1"/>
<line x1="40.4" y1="509.01" x2="668.5" y2="509.01" stroke="#a0a2a4" stroke-width="1"/>
<line x1="40.4" y1="502.81" x2="668.5" y2="502.81" stroke="#a0a2a4" stroke-width="1"/>
<line x1="40.4" y1="497.74" x2="668.5" y2="497.74" stroke="#a0a2a4" stroke-width="1"/>
<line x1="40.4" y1="493.46" x2="668.5" y2="493.46" stroke="#a0a2a4" stroke-width="1"/>
<line x1="40.4" y1="489.75" x2="668.5" y2="489.75" stroke="#a0a2a4" stroke-width="1"/>
<line x1="40.4" y1="486.48" x2="668.5" y2="486.48" stroke="#a0a2a4" stroke-width="1"/>
<line x1="40.4" y1="464.29" x2="668.5" y2="464.29" stroke="#a0a2a4" stroke-width="1"/>
<line x1="40.4" y1="803.4" x2="668.5" y2="803.4" stroke="#343233" stroke-width="1.1"/>
<line x1="40.4" y1="739.43" x2="668.5" y2="739.43" stroke="#343233" stroke-width="1.1"/>
<line x1="40.4" y1="675.46" x2="668.5" y2="675.46" stroke="#343233" stroke-width="1.1"/>
<line x1="40.4" y1="611.49" x2="668.5" y2="611.49" stroke="#343233" stroke-width="1.1"/>
<line x1="40.4" y1="547.52" x2="668.5" y2="547.52" stroke="#343233" stroke-width="1.1"/>
<line x1="40.4" y1="483.55" x2="668.5" y2="483.55" stroke="#343233" stroke-width="1.1"/>
<line x1="71.81" y1="461.9" x2="71.81" y2="847.2" stroke="#9c9ea0" stroke-width="1"/>
<line x1="134.62" y1="461.9" x2="134.62" y2="847.2" stroke="#9c9ea0" stroke-width="1"/>
<line x1="197.43" y1="461.9" x2="197.43" y2="847.2" stroke="#9c9ea0" stroke-width="1"/>
<line x1="260.24" y1="461.9" x2="260.24" y2="847.2" stroke="#9c9ea0" stroke-width="1"/>
<line x1="323.04" y1="461.9" x2="323.04" y2="847.2" stroke="#9c9ea0" stroke-width="1"/>
<line x1="385.86" y1="461.9" x2="385.86" y2="847.2" stroke="#9c9ea0" stroke-width="1"/>
<line x1="448.66" y1="461.9" x2="448.66" y2="847.2" stroke="#9c9ea0" stroke-width="1"/>
<line x1="511.48" y1="461.9" x2="511.48" y2="847.2" stroke="#9c9ea0" stroke-width="1"/>
<line x1="574.28" y1="461.9" x2="574.28" y2="847.2" stroke="#9c9ea0" stroke-width="1"/>
<line x1="637.1" y1="461.9" x2="637.1" y2="847.2" stroke="#9c9ea0" stroke-width="1"/>
<line x1="103.21" y1="461.9" x2="103.21" y2="847.2" stroke="#4d4b4c" stroke-width="1.1"/>
<line x1="166.02" y1="461.9" x2="166.02" y2="847.2" stroke="#4d4b4c" stroke-width="1.1"/>
<line x1="228.83" y1="461.9" x2="228.83" y2="847.2" stroke="#4d4b4c" stroke-width="1.1"/>
<line x1="291.64" y1="461.9" x2="291.64" y2="847.2" stroke="#4d4b4c" stroke-width="1.1"/>
<line x1="354.45" y1="461.9" x2="354.45" y2="847.2" stroke="#4d4b4c" stroke-width="1.1"/>
<line x1="417.26" y1="461.9" x2="417.26" y2="847.2" stroke="#4d4b4c" stroke-width="1.1"/>
<line x1="480.07" y1="461.9" x2="480.07" y2="847.2" stroke="#4d4b4c" stroke-width="1.1"/>
<line x1="542.88" y1="461.9" x2="542.88" y2="847.2" stroke="#4d4b4c" stroke-width="1.1"/>
<line x1="605.69" y1="461.9" x2="605.69" y2="847.2" stroke="#4d4b4c" stroke-width="1.1"/>
<rect x="40.4" y="461.9" width="628.1" height="385.3" fill="none" stroke="#4d4b4c" stroke-width="1.4"/>
<polyline points="71.81,576.89 134.62,582.81 197.43,636.31 260.24,591.98 323.04,511.47 385.86,498.03 448.66,584.26 511.48,578.68 574.28,709.24 637.1,480.72" fill="none" stroke="#d7372b" stroke-width="2.1" stroke-linejoin="round"/>
<circle cx="71.81" cy="576.89" r="3.7" fill="#d7372b"/>
<circle cx="134.62" cy="582.81" r="3.7" fill="#d7372b"/>
<circle cx="197.43" cy="636.31" r="3.7" fill="#d7372b"/>
<circle cx="260.24" cy="591.98" r="3.7" fill="#d7372b"/>
<circle cx="323.04" cy="511.47" r="3.7" fill="#d7372b"/>
<circle cx="385.86" cy="498.03" r="3.7" fill="#d7372b"/>
<circle cx="448.66" cy="584.26" r="3.7" fill="#d7372b"/>
<circle cx="511.48" cy="578.68" r="3.7" fill="#d7372b"/>
<circle cx="574.28" cy="709.24" r="3.7" fill="#d7372b"/>
<circle cx="637.1" cy="480.72" r="3.7" fill="#d7372b"/>
<polyline points="71.81,603.91 134.62,594.53 197.43,620.86 260.24,629.34 323.04,543.11 385.86,524.57 448.66,644.85 511.48,586.05 574.28,711.79 637.1,507.81" fill="none" stroke="#ee7a2b" stroke-width="2.1" stroke-linejoin="round"/>
<circle cx="71.81" cy="603.91" r="3.7" fill="#ee7a2b"/>
<circle cx="134.62" cy="594.53" r="3.7" fill="#ee7a2b"/>
<circle cx="197.43" cy="620.86" r="3.7" fill="#ee7a2b"/>
<circle cx="260.24" cy="629.34" r="3.7" fill="#ee7a2b"/>
<circle cx="323.04" cy="543.11" r="3.7" fill="#ee7a2b"/>
<circle cx="385.86" cy="524.57" r="3.7" fill="#ee7a2b"/>
<circle cx="448.66" cy="644.85" r="3.7" fill="#ee7a2b"/>
<circle cx="511.48" cy="586.05" r="3.7" fill="#ee7a2b"/>
<circle cx="574.28" cy="711.79" r="3.7" fill="#ee7a2b"/>
<circle cx="637.1" cy="507.81" r="3.7" fill="#ee7a2b"/>
<polyline points="71.81,610.11 134.62,603.7 197.43,634.86 260.24,615.42 323.04,547.18 385.86,532.01 448.66,601.84 511.48,581.64 574.28,700.55 637.1,512.71" fill="none" stroke="#5e2e91" stroke-width="2.1" stroke-linejoin="round"/>
<circle cx="71.81" cy="610.11" r="3.7" fill="#5e2e91"/>
<circle cx="134.62" cy="603.7" r="3.7" fill="#5e2e91"/>
<circle cx="197.43" cy="634.86" r="3.7" fill="#5e2e91"/>
<circle cx="260.24" cy="615.42" r="3.7" fill="#5e2e91"/>
<circle cx="323.04" cy="547.18" r="3.7" fill="#5e2e91"/>
<circle cx="385.86" cy="532.01" r="3.7" fill="#5e2e91"/>
<circle cx="448.66" cy="601.84" r="3.7" fill="#5e2e91"/>
<circle cx="511.48" cy="581.64" r="3.7" fill="#5e2e91"/>
<circle cx="574.28" cy="700.55" r="3.7" fill="#5e2e91"/>
<circle cx="637.1" cy="512.71" r="3.7" fill="#5e2e91"/>
<polyline points="71.81,618.45 134.62,606.73 197.43,641.82 260.24,636.72 323.04,555.79 385.86,540.14 448.66,611.35 511.48,605.29 574.28,726.88 637.1,521.26" fill="none" stroke="#1d6fb8" stroke-width="2.1" stroke-linejoin="round"/>
<circle cx="71.81" cy="618.45" r="3.7" fill="#1d6fb8"/>
<circle cx="134.62" cy="606.73" r="3.7" fill="#1d6fb8"/>
<circle cx="197.43" cy="641.82" r="3.7" fill="#1d6fb8"/>
<circle cx="260.24" cy="636.72" r="3.7" fill="#1d6fb8"/>
<circle cx="323.04" cy="555.79" r="3.7" fill="#1d6fb8"/>
<circle cx="385.86" cy="540.14" r="3.7" fill="#1d6fb8"/>
<circle cx="448.66" cy="611.35" r="3.7" fill="#1d6fb8"/>
<circle cx="511.48" cy="605.29" r="3.7" fill="#1d6fb8"/>
<circle cx="574.28" cy="726.88" r="3.7" fill="#1d6fb8"/>
<circle cx="637.1" cy="521.26" r="3.7" fill="#1d6fb8"/>
<polyline points="71.81,621.69 134.62,615.83 197.43,646.58 260.24,611.7 323.04,561.86 385.86,544.14 448.66,613.7 511.48,593.57 574.28,738.26 637.1,524.84" fill="none" stroke="#a44a9f" stroke-width="2.1" stroke-linejoin="round"/>
<circle cx="71.81" cy="621.69" r="3.7" fill="#a44a9f"/>
<circle cx="134.62" cy="615.83" r="3.7" fill="#a44a9f"/>
<circle cx="197.43" cy="646.58" r="3.7" fill="#a44a9f"/>
<circle cx="260.24" cy="611.7" r="3.7" fill="#a44a9f"/>
<circle cx="323.04" cy="561.86" r="3.7" fill="#a44a9f"/>
<circle cx="385.86" cy="544.14" r="3.7" fill="#a44a9f"/>
<circle cx="448.66" cy="613.7" r="3.7" fill="#a44a9f"/>
<circle cx="511.48" cy="593.57" r="3.7" fill="#a44a9f"/>
<circle cx="574.28" cy="738.26" r="3.7" fill="#a44a9f"/>
<circle cx="637.1" cy="524.84" r="3.7" fill="#a44a9f"/>
<polyline points="71.81,623.35 134.62,614.39 197.43,662.64 260.24,662.5 323.04,559.31 385.86,545.25 448.66,615.28 511.48,597.98 574.28,696.28 637.1,526.22" fill="none" stroke="#7dc24b" stroke-width="2.1" stroke-linejoin="round"/>
<circle cx="71.81" cy="623.35" r="3.7" fill="#7dc24b"/>
<circle cx="134.62" cy="614.39" r="3.7" fill="#7dc24b"/>
<circle cx="197.43" cy="662.64" r="3.7" fill="#7dc24b"/>
<circle cx="260.24" cy="662.5" r="3.7" fill="#7dc24b"/>
<circle cx="323.04" cy="559.31" r="3.7" fill="#7dc24b"/>
<circle cx="385.86" cy="545.25" r="3.7" fill="#7dc24b"/>
<circle cx="448.66" cy="615.28" r="3.7" fill="#7dc24b"/>
<circle cx="511.48" cy="597.98" r="3.7" fill="#7dc24b"/>
<circle cx="574.28" cy="696.28" r="3.7" fill="#7dc24b"/>
<circle cx="637.1" cy="526.22" r="3.7" fill="#7dc24b"/>
<polyline points="71.81,640.99 134.62,633.82 197.43,666.84 260.24,659.61 323.04,577.51 385.86,562.06 448.66,633.96 511.48,628.86 574.28,726.33 637.1,543.94" fill="none" stroke="#2aa8e0" stroke-width="2.1" stroke-linejoin="round"/>
<circle cx="71.81" cy="640.99" r="3.7" fill="#2aa8e0"/>
<circle cx="134.62" cy="633.82" r="3.7" fill="#2aa8e0"/>
<circle cx="197.43" cy="666.84" r="3.7" fill="#2aa8e0"/>
<circle cx="260.24" cy="659.61" r="3.7" fill="#2aa8e0"/>
<circle cx="323.04" cy="577.51" r="3.7" fill="#2aa8e0"/>
<circle cx="385.86" cy="562.06" r="3.7" fill="#2aa8e0"/>
<circle cx="448.66" cy="633.96" r="3.7" fill="#2aa8e0"/>
<circle cx="511.48" cy="628.86" r="3.7" fill="#2aa8e0"/>
<circle cx="574.28" cy="726.33" r="3.7" fill="#2aa8e0"/>
<circle cx="637.1" cy="543.94" r="3.7" fill="#2aa8e0"/>
<polyline points="71.81,745.91 134.62,709.58 197.43,733.5 260.24,762.66 323.04,696.48 385.86,689.45 448.66,705.93 511.48,666.64 574.28,848.3" fill="none" stroke="#939598" stroke-width="2.1" stroke-linejoin="round"/>
<circle cx="71.81" cy="745.91" r="3.7" fill="#939598"/>
<circle cx="134.62" cy="709.58" r="3.7" fill="#939598"/>
<circle cx="197.43" cy="733.5" r="3.7" fill="#939598"/>
<circle cx="260.24" cy="762.66" r="3.7" fill="#939598"/>
<circle cx="323.04" cy="696.48" r="3.7" fill="#939598"/>
<circle cx="385.86" cy="689.45" r="3.7" fill="#939598"/>
<circle cx="448.66" cy="705.93" r="3.7" fill="#939598"/>
<circle cx="511.48" cy="666.64" r="3.7" fill="#939598"/>
<circle cx="574.28" cy="848.3" r="3.7" fill="#939598"/>
<polyline points="71.81,577.64 134.62,583.02 197.43,636.65 260.24,592.46 323.04,512.57 385.86,498.58 448.66,583.92 511.48,577.78 574.28,707.38 637.1,481.76" fill="none" stroke="#17a84b" stroke-width="2.1" stroke-linejoin="round"/>
<circle cx="71.81" cy="577.64" r="3.7" fill="#17a84b"/>
<circle cx="134.62" cy="583.02" r="3.7" fill="#17a84b"/>
<circle cx="197.43" cy="636.65" r="3.7" fill="#17a84b"/>
<circle cx="260.24" cy="592.46" r="3.7" fill="#17a84b"/>
<circle cx="323.04" cy="512.57" r="3.7" fill="#17a84b"/>
<circle cx="385.86" cy="498.58" r="3.7" fill="#17a84b"/>
<circle cx="448.66" cy="583.92" r="3.7" fill="#17a84b"/>
<circle cx="511.48" cy="577.78" r="3.7" fill="#17a84b"/>
<circle cx="574.28" cy="707.38" r="3.7" fill="#17a84b"/>
<circle cx="637.1" cy="481.76" r="3.7" fill="#17a84b"/>
<polyline points="71.81,625.55 134.62,618.38 197.43,649.89 260.24,619.42 323.04,562.96 385.86,547.11 448.66,616.32 511.48,620.38 574.28,800.57 637.1,528.63" fill="none" stroke="#fbb62b" stroke-width="2.1" stroke-linejoin="round"/>
<circle cx="71.81" cy="625.55" r="3.7" fill="#fbb62b"/>
<circle cx="134.62" cy="618.38" r="3.7" fill="#fbb62b"/>
<circle cx="197.43" cy="649.89" r="3.7" fill="#fbb62b"/>
<circle cx="260.24" cy="619.42" r="3.7" fill="#fbb62b"/>
<circle cx="323.04" cy="562.96" r="3.7" fill="#fbb62b"/>
<circle cx="385.86" cy="547.11" r="3.7" fill="#fbb62b"/>
<circle cx="448.66" cy="616.32" r="3.7" fill="#fbb62b"/>
<circle cx="511.48" cy="620.38" r="3.7" fill="#fbb62b"/>
<circle cx="574.28" cy="800.57" r="3.7" fill="#fbb62b"/>
<circle cx="637.1" cy="528.63" r="3.7" fill="#fbb62b"/>
<polyline points="71.81,613.56 134.62,610.32 197.43,638.86 260.24,628.24 323.04,550.07 385.86,535.11 448.66,604.25 511.48,590.95 574.28,699.17 637.1,516.29" fill="none" stroke="#5b2c0a" stroke-width="2.1" stroke-linejoin="round"/>
<circle cx="71.81" cy="613.56" r="3.7" fill="#5b2c0a"/>
<circle cx="134.62" cy="610.32" r="3.7" fill="#5b2c0a"/>
<circle cx="197.43" cy="638.86" r="3.7" fill="#5b2c0a"/>
<circle cx="260.24" cy="628.24" r="3.7" fill="#5b2c0a"/>
<circle cx="323.04" cy="550.07" r="3.7" fill="#5b2c0a"/>
<circle cx="385.86" cy="535.11" r="3.7" fill="#5b2c0a"/>
<circle cx="448.66" cy="604.25" r="3.7" fill="#5b2c0a"/>
<circle cx="511.48" cy="590.95" r="3.7" fill="#5b2c0a"/>
<circle cx="574.28" cy="699.17" r="3.7" fill="#5b2c0a"/>
<circle cx="637.1" cy="516.29" r="3.7" fill="#5b2c0a"/>
<line x1="71.81" y1="663.6" x2="134.62" y2="669.95" stroke="#1d6fb8" stroke-width="2.1" stroke-dasharray="3.9 2.1"/>
<line x1="134.62" y1="669.95" x2="197.43" y2="700.41" stroke="#1d6fb8" stroke-width="2.1" stroke-dasharray="3.9 2.1"/>
<line x1="197.43" y1="700.41" x2="260.24" y2="677.05" stroke="#1d6fb8" stroke-width="2.1" stroke-dasharray="3.9 2.1"/>
<line x1="260.24" y1="677.05" x2="323.04" y2="599.5" stroke="#1d6fb8" stroke-width="2.1" stroke-dasharray="3.9 2.1"/>
<line x1="323.04" y1="599.5" x2="385.86" y2="587.43" stroke="#1d6fb8" stroke-width="2.1" stroke-dasharray="3.9 2.1"/>
<line x1="385.86" y1="587.43" x2="448.66" y2="652.57" stroke="#1d6fb8" stroke-width="2.1" stroke-dasharray="3.9 2.1"/>
<line x1="448.66" y1="652.57" x2="511.48" y2="639.06" stroke="#1d6fb8" stroke-width="2.1" stroke-dasharray="3.9 2.1"/>
<line x1="511.48" y1="639.06" x2="574.28" y2="757.9" stroke="#1d6fb8" stroke-width="2.1" stroke-dasharray="3.9 2.1"/>
<line x1="574.28" y1="757.9" x2="637.1" y2="567.03" stroke="#1d6fb8" stroke-width="2.1" stroke-dasharray="3.9 2.1"/>
<circle cx="71.81" cy="663.6" r="3.7" fill="#1d6fb8"/>
<circle cx="134.62" cy="669.95" r="3.7" fill="#1d6fb8"/>
<circle cx="197.43" cy="700.41" r="3.7" fill="#1d6fb8"/>
<circle cx="260.24" cy="677.05" r="3.7" fill="#1d6fb8"/>
<circle cx="323.04" cy="599.5" r="3.7" fill="#1d6fb8"/>
<circle cx="385.86" cy="587.43" r="3.7" fill="#1d6fb8"/>
<circle cx="448.66" cy="652.57" r="3.7" fill="#1d6fb8"/>
<circle cx="511.48" cy="639.06" r="3.7" fill="#1d6fb8"/>
<circle cx="574.28" cy="757.9" r="3.7" fill="#1d6fb8"/>
<circle cx="637.1" cy="567.03" r="3.7" fill="#1d6fb8"/>
<line x1="71.81" y1="664.29" x2="134.62" y2="670.98" stroke="#a44a9f" stroke-width="2.1" stroke-dasharray="3.5 3.6"/>
<line x1="134.62" y1="670.98" x2="197.43" y2="702.96" stroke="#a44a9f" stroke-width="2.1" stroke-dasharray="3.5 3.6"/>
<line x1="197.43" y1="702.96" x2="260.24" y2="671.53" stroke="#a44a9f" stroke-width="2.1" stroke-dasharray="3.5 3.6"/>
<line x1="260.24" y1="671.53" x2="323.04" y2="600.12" stroke="#a44a9f" stroke-width="2.1" stroke-dasharray="3.5 3.6"/>
<line x1="323.04" y1="600.12" x2="385.86" y2="588.88" stroke="#a44a9f" stroke-width="2.1" stroke-dasharray="3.5 3.6"/>
<line x1="385.86" y1="588.88" x2="448.66" y2="649.06" stroke="#a44a9f" stroke-width="2.1" stroke-dasharray="3.5 3.6"/>
<line x1="448.66" y1="649.06" x2="511.48" y2="634.51" stroke="#a44a9f" stroke-width="2.1" stroke-dasharray="3.5 3.6"/>
<line x1="511.48" y1="634.51" x2="574.28" y2="786.24" stroke="#a44a9f" stroke-width="2.1" stroke-dasharray="3.5 3.6"/>
<line x1="574.28" y1="786.24" x2="637.1" y2="567.37" stroke="#a44a9f" stroke-width="2.1" stroke-dasharray="3.5 3.6"/>
<circle cx="71.81" cy="664.29" r="3.7" fill="#a44a9f"/>
<circle cx="134.62" cy="670.98" r="3.7" fill="#a44a9f"/>
<circle cx="197.43" cy="702.96" r="3.7" fill="#a44a9f"/>
<circle cx="260.24" cy="671.53" r="3.7" fill="#a44a9f"/>
<circle cx="323.04" cy="600.12" r="3.7" fill="#a44a9f"/>
<circle cx="385.86" cy="588.88" r="3.7" fill="#a44a9f"/>
<circle cx="448.66" cy="649.06" r="3.7" fill="#a44a9f"/>
<circle cx="511.48" cy="634.51" r="3.7" fill="#a44a9f"/>
<circle cx="574.28" cy="786.24" r="3.7" fill="#a44a9f"/>
<circle cx="637.1" cy="567.37" r="3.7" fill="#a44a9f"/>
<line x1="71.81" y1="676.36" x2="134.62" y2="693.52" stroke="#7dc24b" stroke-width="2.1" stroke-dasharray="3.5 3.6"/>
<line x1="134.62" y1="693.52" x2="197.43" y2="717.3" stroke="#7dc24b" stroke-width="2.1" stroke-dasharray="3.5 3.6"/>
<line x1="197.43" y1="717.3" x2="260.24" y2="690.69" stroke="#7dc24b" stroke-width="2.1" stroke-dasharray="3.5 3.6"/>
<line x1="260.24" y1="690.69" x2="323.04" y2="610.52" stroke="#7dc24b" stroke-width="2.1" stroke-dasharray="3.5 3.6"/>
<line x1="323.04" y1="610.52" x2="385.86" y2="605.35" stroke="#7dc24b" stroke-width="2.1" stroke-dasharray="3.5 3.6"/>
<line x1="385.86" y1="605.35" x2="448.66" y2="659.67" stroke="#7dc24b" stroke-width="2.1" stroke-dasharray="3.5 3.6"/>
<line x1="448.66" y1="659.67" x2="511.48" y2="621.14" stroke="#7dc24b" stroke-width="2.1" stroke-dasharray="3.5 3.6"/>
<line x1="511.48" y1="621.14" x2="574.28" y2="781.48" stroke="#7dc24b" stroke-width="2.1" stroke-dasharray="3.5 3.6"/>
<line x1="574.28" y1="781.48" x2="637.1" y2="577.51" stroke="#7dc24b" stroke-width="2.1" stroke-dasharray="3.5 3.6"/>
<circle cx="71.81" cy="676.36" r="3.7" fill="#7dc24b"/>
<circle cx="134.62" cy="693.52" r="3.7" fill="#7dc24b"/>
<circle cx="197.43" cy="717.3" r="3.7" fill="#7dc24b"/>
<circle cx="260.24" cy="690.69" r="3.7" fill="#7dc24b"/>
<circle cx="323.04" cy="610.52" r="3.7" fill="#7dc24b"/>
<circle cx="385.86" cy="605.35" r="3.7" fill="#7dc24b"/>
<circle cx="448.66" cy="659.67" r="3.7" fill="#7dc24b"/>
<circle cx="511.48" cy="621.14" r="3.7" fill="#7dc24b"/>
<circle cx="574.28" cy="781.48" r="3.7" fill="#7dc24b"/>
<circle cx="637.1" cy="577.51" r="3.7" fill="#7dc24b"/>
<line x1="71.81" y1="740.74" x2="134.62" y2="723.3" stroke="#2aa8e0" stroke-width="2.1" stroke-dasharray="3.5 3.6"/>
<line x1="134.62" y1="723.3" x2="197.43" y2="754.39" stroke="#2aa8e0" stroke-width="2.1" stroke-dasharray="3.5 3.6"/>
<line x1="197.43" y1="754.39" x2="260.24" y2="747.22" stroke="#2aa8e0" stroke-width="2.1" stroke-dasharray="3.5 3.6"/>
<line x1="260.24" y1="747.22" x2="323.04" y2="680.15" stroke="#2aa8e0" stroke-width="2.1" stroke-dasharray="3.5 3.6"/>
<line x1="323.04" y1="680.15" x2="385.86" y2="666.71" stroke="#2aa8e0" stroke-width="2.1" stroke-dasharray="3.5 3.6"/>
<line x1="385.86" y1="666.71" x2="448.66" y2="722.27" stroke="#2aa8e0" stroke-width="2.1" stroke-dasharray="3.5 3.6"/>
<line x1="448.66" y1="722.27" x2="511.48" y2="694.14" stroke="#2aa8e0" stroke-width="2.1" stroke-dasharray="3.5 3.6"/>
<line x1="511.48" y1="694.14" x2="574.28" y2="827.73" stroke="#2aa8e0" stroke-width="2.1" stroke-dasharray="3.5 3.6"/>
<line x1="574.28" y1="827.73" x2="637.1" y2="641.48" stroke="#2aa8e0" stroke-width="2.1" stroke-dasharray="3.5 3.6"/>
<circle cx="71.81" cy="740.74" r="3.7" fill="#2aa8e0"/>
<circle cx="134.62" cy="723.3" r="3.7" fill="#2aa8e0"/>
<circle cx="197.43" cy="754.39" r="3.7" fill="#2aa8e0"/>
<circle cx="260.24" cy="747.22" r="3.7" fill="#2aa8e0"/>
<circle cx="323.04" cy="680.15" r="3.7" fill="#2aa8e0"/>
<circle cx="385.86" cy="666.71" r="3.7" fill="#2aa8e0"/>
<circle cx="448.66" cy="722.27" r="3.7" fill="#2aa8e0"/>
<circle cx="511.48" cy="694.14" r="3.7" fill="#2aa8e0"/>
<circle cx="574.28" cy="827.73" r="3.7" fill="#2aa8e0"/>
<circle cx="637.1" cy="641.48" r="3.7" fill="#2aa8e0"/>
<polyline points="71.81,747.56 134.62,695.52 197.43,721.37 260.24,768.59 323.04,722.75 385.86,701.59 448.66,705.45 511.48,658.92 574.28,848.3 637.1,640.37" fill="none" stroke="#231f20" stroke-width="2.1" stroke-linejoin="round"/>
<circle cx="71.81" cy="747.56" r="3.7" fill="#231f20"/>
<circle cx="134.62" cy="695.52" r="3.7" fill="#231f20"/>
<circle cx="197.43" cy="721.37" r="3.7" fill="#231f20"/>
<circle cx="260.24" cy="768.59" r="3.7" fill="#231f20"/>
<circle cx="323.04" cy="722.75" r="3.7" fill="#231f20"/>
<circle cx="385.86" cy="701.59" r="3.7" fill="#231f20"/>
<circle cx="448.66" cy="705.45" r="3.7" fill="#231f20"/>
<circle cx="511.48" cy="658.92" r="3.7" fill="#231f20"/>
<circle cx="574.28" cy="848.3" r="3.7" fill="#231f20"/>
<circle cx="637.1" cy="640.37" r="3.7" fill="#231f20"/>
<text x="41.5" y="481.65" text-anchor="start" font-size="15">100000</text>
<text x="41.5" y="545.62" text-anchor="start" font-size="15">10000</text>
<text x="41.5" y="609.59" text-anchor="start" font-size="15">1000</text>
<text x="41.5" y="673.56" text-anchor="start" font-size="15">100</text>
<text x="41.5" y="737.53" text-anchor="start" font-size="15">10</text>
<text x="41.5" y="801.5" text-anchor="start" font-size="15">1</text>
<rect x="553.78" y="832.8" width="41" height="13.4" fill="#fff" fill-opacity="0.85"/>
<text x="574.28" y="844.6" text-anchor="middle" font-size="15">&lt; 0.01</text>
<line x1="72.6" y1="871.4" x2="101.6" y2="871.4" stroke="#d7372b" stroke-width="2"/>
<circle cx="86.8" cy="871.4" r="3.7" fill="#d7372b"/>
<text x="111" y="876.7" font-size="15">König-Heinrich-Sprudel 2011</text>
<line x1="72.6" y1="890.63" x2="101.6" y2="890.63" stroke="#ee7a2b" stroke-width="2"/>
<circle cx="86.8" cy="890.63" r="3.7" fill="#ee7a2b"/>
<text x="111" y="895.93" font-size="15">Pacificus-Sprudel 1909</text>
<line x1="72.6" y1="909.86" x2="101.6" y2="909.86" stroke="#5e2e91" stroke-width="2"/>
<circle cx="86.8" cy="909.86" r="3.7" fill="#5e2e91"/>
<text x="111" y="915.16" font-size="15">Sprudel-1 1898</text>
<line x1="72.6" y1="929.09" x2="101.6" y2="929.09" stroke="#1d6fb8" stroke-width="2"/>
<circle cx="86.8" cy="929.09" r="3.7" fill="#1d6fb8"/>
<text x="111" y="934.39" font-size="15">Trinksprudel well-1 2012</text>
<line x1="72.6" y1="948.32" x2="101.6" y2="948.32" stroke="#a44a9f" stroke-width="2"/>
<circle cx="86.8" cy="948.32" r="3.7" fill="#a44a9f"/>
<text x="111" y="953.62" font-size="15">Barbarossaquelle 1877</text>
<line x1="72.6" y1="967.55" x2="101.6" y2="967.55" stroke="#7dc24b" stroke-width="2"/>
<circle cx="86.8" cy="967.55" r="3.7" fill="#7dc24b"/>
<text x="111" y="972.85" font-size="15">Ottoquelle 1886</text>
<line x1="72.6" y1="986.78" x2="101.6" y2="986.78" stroke="#2aa8e0" stroke-width="2"/>
<circle cx="86.8" cy="986.78" r="3.7" fill="#2aa8e0"/>
<text x="111" y="992.08" font-size="15">Carl-Roth-Brunnen 1929</text>
<line x1="72.6" y1="1006.01" x2="101.6" y2="1006.01" stroke="#939598" stroke-width="2"/>
<circle cx="86.8" cy="1006.01" r="3.7" fill="#939598"/>
<text x="111" y="1011.31" font-size="15">Rolandquelle 1956</text>
<line x1="352.2" y1="871.4" x2="381.2" y2="871.4" stroke="#17a84b" stroke-width="2"/>
<circle cx="366.4" cy="871.4" r="3.7" fill="#17a84b"/>
<text x="390.6" y="876.7" font-size="15">Fritz-Hamm-Sprudel 2011</text>
<line x1="352.2" y1="890.63" x2="381.2" y2="890.63" stroke="#fbb62b" stroke-width="2"/>
<circle cx="366.4" cy="890.63" r="3.7" fill="#fbb62b"/>
<text x="390.6" y="895.93" font-size="15">Huttenquelle 1886</text>
<line x1="352.2" y1="909.86" x2="381.2" y2="909.86" stroke="#5b2c0a" stroke-width="2"/>
<circle cx="366.4" cy="909.86" r="3.7" fill="#5b2c0a"/>
<text x="390.6" y="915.16" font-size="15">Sprudel-2 1901</text>
<line x1="352.2" y1="929.09" x2="381.2" y2="929.09" stroke="#1d6fb8" stroke-width="2" stroke-dasharray="4.4 2.4"/>
<circle cx="366.4" cy="929.09" r="3.7" fill="#1d6fb8"/>
<text x="390.6" y="934.39" font-size="15">Trinksprudel well-2 2012</text>
<line x1="352.2" y1="948.32" x2="381.2" y2="948.32" stroke="#a44a9f" stroke-width="2" stroke-dasharray="3.6 3.6"/>
<circle cx="366.4" cy="948.32" r="3.7" fill="#a44a9f"/>
<text x="390.6" y="953.62" font-size="15">Barbarossaquelle 1957</text>
<line x1="352.2" y1="967.55" x2="381.2" y2="967.55" stroke="#7dc24b" stroke-width="2" stroke-dasharray="3.6 3.6"/>
<circle cx="366.4" cy="967.55" r="3.7" fill="#7dc24b"/>
<text x="390.6" y="972.85" font-size="15">Ottoquelle 1957</text>
<line x1="352.2" y1="986.78" x2="381.2" y2="986.78" stroke="#2aa8e0" stroke-width="2" stroke-dasharray="3.6 3.6"/>
<circle cx="366.4" cy="986.78" r="3.7" fill="#2aa8e0"/>
<text x="390.6" y="992.08" font-size="15">Carl-Roth-Brunnen 1957</text>
<line x1="352.2" y1="1006.01" x2="381.2" y2="1006.01" stroke="#231f20" stroke-width="2"/>
<circle cx="366.4" cy="1006.01" r="3.7" fill="#231f20"/>
<text x="390.6" y="1011.31" font-size="15">Freshwater supply Huttengrund 2010</text>
</svg>
</body></html>
